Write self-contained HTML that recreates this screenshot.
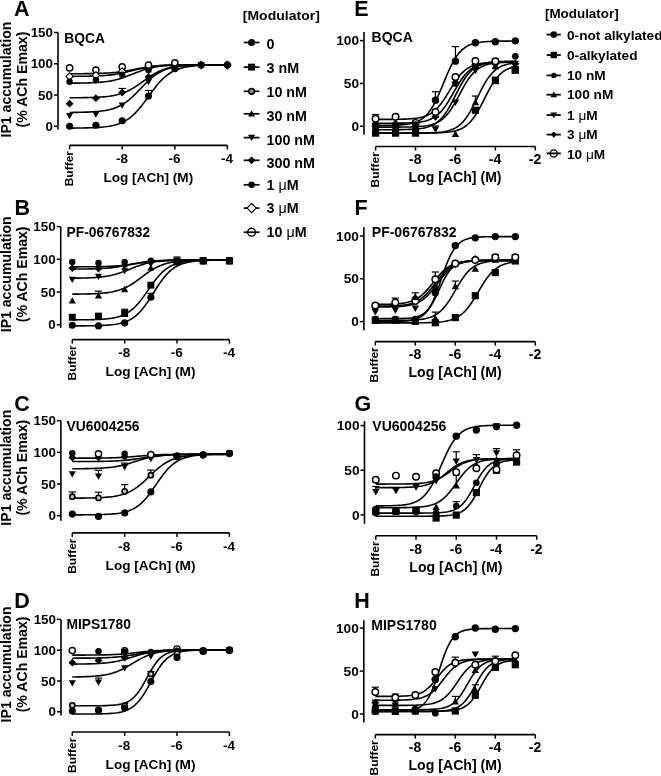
<!DOCTYPE html>
<html><head><meta charset="utf-8"><style>
html,body{margin:0;padding:0;background:#fff;overflow:hidden;width:661px;height:776px;}
svg{display:block;filter:blur(0.3px);}
text{font-family:"Liberation Sans", sans-serif;fill:#000;stroke:none;}
</style></head><body>
<svg width="661" height="776" viewBox="0 0 661 776">
<g stroke="#000" fill="none">
<line x1="58.00" y1="32.50" x2="58.00" y2="129.43" stroke-width="1.6"/>
<line x1="54.00" y1="126.30" x2="58.00" y2="126.30" stroke-width="1.5"/>
<text x="53.00" y="130.91" font-size="13.4" text-anchor="end" font-weight="bold">0</text>
<line x1="54.00" y1="95.03" x2="58.00" y2="95.03" stroke-width="1.5"/>
<text x="53.00" y="99.64" font-size="13.4" text-anchor="end" font-weight="bold">50</text>
<line x1="54.00" y1="63.77" x2="58.00" y2="63.77" stroke-width="1.5"/>
<text x="53.00" y="68.38" font-size="13.4" text-anchor="end" font-weight="bold">100</text>
<line x1="54.00" y1="32.50" x2="58.00" y2="32.50" stroke-width="1.5"/>
<text x="53.00" y="37.11" font-size="13.4" text-anchor="end" font-weight="bold">150</text>
<line x1="69.60" y1="145.40" x2="227.40" y2="145.40" stroke-width="1.6"/>
<line x1="69.60" y1="145.40" x2="69.60" y2="149.40" stroke-width="1.5"/>
<line x1="122.20" y1="145.40" x2="122.20" y2="149.40" stroke-width="1.5"/>
<text x="121.90" y="163.20" font-size="13.5" text-anchor="middle" font-weight="bold">-8</text>
<line x1="174.80" y1="145.40" x2="174.80" y2="149.40" stroke-width="1.5"/>
<text x="174.50" y="163.20" font-size="13.5" text-anchor="middle" font-weight="bold">-6</text>
<line x1="227.40" y1="145.40" x2="227.40" y2="149.40" stroke-width="1.5"/>
<text x="227.10" y="163.20" font-size="13.5" text-anchor="middle" font-weight="bold">-4</text>
<text x="73.10" y="151.00" font-size="11.5" text-anchor="end" font-weight="bold" transform="rotate(-90 73.10 151.00)" textLength="35.3" lengthAdjust="spacingAndGlyphs">Buffer</text>
<text x="14.00" y="15.60" font-size="21.5" text-anchor="start" font-weight="bold">A</text>
<text x="64.30" y="42.80" font-size="13.8" text-anchor="start" font-weight="bold">BQCA</text>
<text x="148.30" y="181.50" font-size="13.6" text-anchor="middle" font-weight="bold">Log [ACh] (M)</text>
<text x="11.20" y="79.56" font-size="14.1" text-anchor="middle" font-weight="bold" transform="rotate(-90 11.20 79.56)">IP1 accumulation</text>
<text x="26.80" y="79.56" font-size="14.1" text-anchor="middle" font-weight="bold" transform="rotate(-90 26.80 79.56)">(% ACh Emax)</text>
<line x1="60.70" y1="226.60" x2="60.70" y2="328.07" stroke-width="1.6"/>
<line x1="56.70" y1="324.80" x2="60.70" y2="324.80" stroke-width="1.5"/>
<text x="55.70" y="329.41" font-size="13.4" text-anchor="end" font-weight="bold">0</text>
<line x1="56.70" y1="292.07" x2="60.70" y2="292.07" stroke-width="1.5"/>
<text x="55.70" y="296.68" font-size="13.4" text-anchor="end" font-weight="bold">50</text>
<line x1="56.70" y1="259.33" x2="60.70" y2="259.33" stroke-width="1.5"/>
<text x="55.70" y="263.94" font-size="13.4" text-anchor="end" font-weight="bold">100</text>
<line x1="56.70" y1="226.60" x2="60.70" y2="226.60" stroke-width="1.5"/>
<text x="55.70" y="231.21" font-size="13.4" text-anchor="end" font-weight="bold">150</text>
<line x1="72.30" y1="339.60" x2="229.40" y2="339.60" stroke-width="1.6"/>
<line x1="72.30" y1="339.60" x2="72.30" y2="343.60" stroke-width="1.5"/>
<line x1="124.67" y1="339.60" x2="124.67" y2="343.60" stroke-width="1.5"/>
<text x="124.37" y="357.40" font-size="13.5" text-anchor="middle" font-weight="bold">-8</text>
<line x1="177.03" y1="339.60" x2="177.03" y2="343.60" stroke-width="1.5"/>
<text x="176.73" y="357.40" font-size="13.5" text-anchor="middle" font-weight="bold">-6</text>
<line x1="229.40" y1="339.60" x2="229.40" y2="343.60" stroke-width="1.5"/>
<text x="229.10" y="357.40" font-size="13.5" text-anchor="middle" font-weight="bold">-4</text>
<text x="75.80" y="345.20" font-size="11.5" text-anchor="end" font-weight="bold" transform="rotate(-90 75.80 345.20)" textLength="35.3" lengthAdjust="spacingAndGlyphs">Buffer</text>
<text x="14.60" y="214.80" font-size="21.5" text-anchor="start" font-weight="bold">B</text>
<text x="66.60" y="236.50" font-size="13.8" text-anchor="start" font-weight="bold">PF-06767832</text>
<text x="150.50" y="375.80" font-size="13.6" text-anchor="middle" font-weight="bold">Log [ACh] (M)</text>
<text x="11.20" y="274.34" font-size="14.1" text-anchor="middle" font-weight="bold" transform="rotate(-90 11.20 274.34)">IP1 accumulation</text>
<text x="26.80" y="274.34" font-size="14.1" text-anchor="middle" font-weight="bold" transform="rotate(-90 26.80 274.34)">(% ACh Emax)</text>
<line x1="60.90" y1="420.70" x2="60.90" y2="520.77" stroke-width="1.6"/>
<line x1="56.90" y1="515.70" x2="60.90" y2="515.70" stroke-width="1.5"/>
<text x="55.90" y="520.31" font-size="13.4" text-anchor="end" font-weight="bold">0</text>
<line x1="56.90" y1="484.03" x2="60.90" y2="484.03" stroke-width="1.5"/>
<text x="55.90" y="488.64" font-size="13.4" text-anchor="end" font-weight="bold">50</text>
<line x1="56.90" y1="452.37" x2="60.90" y2="452.37" stroke-width="1.5"/>
<text x="55.90" y="456.98" font-size="13.4" text-anchor="end" font-weight="bold">100</text>
<line x1="56.90" y1="420.70" x2="60.90" y2="420.70" stroke-width="1.5"/>
<text x="55.90" y="425.31" font-size="13.4" text-anchor="end" font-weight="bold">150</text>
<line x1="72.30" y1="532.90" x2="229.40" y2="532.90" stroke-width="1.6"/>
<line x1="72.30" y1="532.90" x2="72.30" y2="536.90" stroke-width="1.5"/>
<line x1="124.67" y1="532.90" x2="124.67" y2="536.90" stroke-width="1.5"/>
<text x="124.37" y="550.70" font-size="13.5" text-anchor="middle" font-weight="bold">-8</text>
<line x1="177.03" y1="532.90" x2="177.03" y2="536.90" stroke-width="1.5"/>
<text x="176.73" y="550.70" font-size="13.5" text-anchor="middle" font-weight="bold">-6</text>
<line x1="229.40" y1="532.90" x2="229.40" y2="536.90" stroke-width="1.5"/>
<text x="229.10" y="550.70" font-size="13.5" text-anchor="middle" font-weight="bold">-4</text>
<text x="75.80" y="538.50" font-size="11.5" text-anchor="end" font-weight="bold" transform="rotate(-90 75.80 538.50)" textLength="35.3" lengthAdjust="spacingAndGlyphs">Buffer</text>
<text x="14.30" y="411.30" font-size="21.5" text-anchor="start" font-weight="bold">C</text>
<text x="66.60" y="431.00" font-size="13.8" text-anchor="start" font-weight="bold">VU6004256</text>
<text x="150.50" y="569.80" font-size="13.6" text-anchor="middle" font-weight="bold">Log [ACh] (M)</text>
<text x="11.20" y="467.73" font-size="14.1" text-anchor="middle" font-weight="bold" transform="rotate(-90 11.20 467.73)">IP1 accumulation</text>
<text x="26.80" y="467.73" font-size="14.1" text-anchor="middle" font-weight="bold" transform="rotate(-90 26.80 467.73)">(% ACh Emax)</text>
<line x1="61.00" y1="619.40" x2="61.00" y2="715.50" stroke-width="1.6"/>
<line x1="57.00" y1="711.80" x2="61.00" y2="711.80" stroke-width="1.5"/>
<text x="56.00" y="716.41" font-size="13.4" text-anchor="end" font-weight="bold">0</text>
<line x1="57.00" y1="681.00" x2="61.00" y2="681.00" stroke-width="1.5"/>
<text x="56.00" y="685.61" font-size="13.4" text-anchor="end" font-weight="bold">50</text>
<line x1="57.00" y1="650.20" x2="61.00" y2="650.20" stroke-width="1.5"/>
<text x="56.00" y="654.81" font-size="13.4" text-anchor="end" font-weight="bold">100</text>
<line x1="57.00" y1="619.40" x2="61.00" y2="619.40" stroke-width="1.5"/>
<text x="56.00" y="624.01" font-size="13.4" text-anchor="end" font-weight="bold">150</text>
<line x1="72.30" y1="732.00" x2="229.40" y2="732.00" stroke-width="1.6"/>
<line x1="72.30" y1="732.00" x2="72.30" y2="736.00" stroke-width="1.5"/>
<line x1="124.67" y1="732.00" x2="124.67" y2="736.00" stroke-width="1.5"/>
<text x="124.37" y="749.80" font-size="13.5" text-anchor="middle" font-weight="bold">-8</text>
<line x1="177.03" y1="732.00" x2="177.03" y2="736.00" stroke-width="1.5"/>
<text x="176.73" y="749.80" font-size="13.5" text-anchor="middle" font-weight="bold">-6</text>
<line x1="229.40" y1="732.00" x2="229.40" y2="736.00" stroke-width="1.5"/>
<text x="229.10" y="749.80" font-size="13.5" text-anchor="middle" font-weight="bold">-4</text>
<text x="75.80" y="737.60" font-size="11.5" text-anchor="end" font-weight="bold" transform="rotate(-90 75.80 737.60)" textLength="35.3" lengthAdjust="spacingAndGlyphs">Buffer</text>
<text x="14.30" y="607.60" font-size="21.5" text-anchor="start" font-weight="bold">D</text>
<text x="66.40" y="629.30" font-size="13.8" text-anchor="start" font-weight="bold">MIPS1780</text>
<text x="150.50" y="768.60" font-size="13.6" text-anchor="middle" font-weight="bold">Log [ACh] (M)</text>
<text x="11.20" y="664.45" font-size="14.1" text-anchor="middle" font-weight="bold" transform="rotate(-90 11.20 664.45)">IP1 accumulation</text>
<text x="26.80" y="664.45" font-size="14.1" text-anchor="middle" font-weight="bold" transform="rotate(-90 26.80 664.45)">(% ACh Emax)</text>
<line x1="364.00" y1="32.03" x2="364.00" y2="134.87" stroke-width="1.6"/>
<line x1="360.00" y1="126.30" x2="364.00" y2="126.30" stroke-width="1.5"/>
<text x="359.00" y="131.01" font-size="13.7" text-anchor="end" font-weight="bold">0</text>
<line x1="360.00" y1="83.45" x2="364.00" y2="83.45" stroke-width="1.5"/>
<text x="359.00" y="88.16" font-size="13.7" text-anchor="end" font-weight="bold">50</text>
<line x1="360.00" y1="40.60" x2="364.00" y2="40.60" stroke-width="1.5"/>
<text x="359.00" y="45.31" font-size="13.7" text-anchor="end" font-weight="bold">100</text>
<line x1="375.60" y1="146.50" x2="535.30" y2="146.50" stroke-width="1.6"/>
<line x1="375.60" y1="146.50" x2="375.60" y2="150.50" stroke-width="1.5"/>
<line x1="415.52" y1="146.50" x2="415.52" y2="150.50" stroke-width="1.5"/>
<text x="415.22" y="164.30" font-size="14.0" text-anchor="middle" font-weight="bold">-8</text>
<line x1="455.45" y1="146.50" x2="455.45" y2="150.50" stroke-width="1.5"/>
<text x="455.15" y="164.30" font-size="14.0" text-anchor="middle" font-weight="bold">-6</text>
<line x1="495.38" y1="146.50" x2="495.38" y2="150.50" stroke-width="1.5"/>
<text x="495.07" y="164.30" font-size="14.0" text-anchor="middle" font-weight="bold">-4</text>
<line x1="535.30" y1="146.50" x2="535.30" y2="150.50" stroke-width="1.5"/>
<text x="535.00" y="164.30" font-size="14.0" text-anchor="middle" font-weight="bold">-2</text>
<text x="378.60" y="152.10" font-size="11.5" text-anchor="end" font-weight="bold" transform="rotate(-90 378.60 152.10)" textLength="35.3" lengthAdjust="spacingAndGlyphs">Buffer</text>
<text x="354.30" y="15.60" font-size="21.5" text-anchor="start" font-weight="bold">E</text>
<text x="371.60" y="41.70" font-size="14.0" text-anchor="start" font-weight="bold">BQCA</text>
<text x="455.00" y="182.30" font-size="14.1" text-anchor="middle" font-weight="bold">Log [ACh] (M)</text>
<line x1="363.90" y1="227.33" x2="363.90" y2="330.17" stroke-width="1.6"/>
<line x1="359.90" y1="321.60" x2="363.90" y2="321.60" stroke-width="1.5"/>
<text x="358.90" y="326.31" font-size="13.7" text-anchor="end" font-weight="bold">0</text>
<line x1="359.90" y1="278.75" x2="363.90" y2="278.75" stroke-width="1.5"/>
<text x="358.90" y="283.46" font-size="13.7" text-anchor="end" font-weight="bold">50</text>
<line x1="359.90" y1="235.90" x2="363.90" y2="235.90" stroke-width="1.5"/>
<text x="358.90" y="240.61" font-size="13.7" text-anchor="end" font-weight="bold">100</text>
<line x1="375.30" y1="341.60" x2="535.30" y2="341.60" stroke-width="1.6"/>
<line x1="375.30" y1="341.60" x2="375.30" y2="345.60" stroke-width="1.5"/>
<line x1="415.30" y1="341.60" x2="415.30" y2="345.60" stroke-width="1.5"/>
<text x="415.00" y="359.40" font-size="14.0" text-anchor="middle" font-weight="bold">-8</text>
<line x1="455.30" y1="341.60" x2="455.30" y2="345.60" stroke-width="1.5"/>
<text x="455.00" y="359.40" font-size="14.0" text-anchor="middle" font-weight="bold">-6</text>
<line x1="495.30" y1="341.60" x2="495.30" y2="345.60" stroke-width="1.5"/>
<text x="495.00" y="359.40" font-size="14.0" text-anchor="middle" font-weight="bold">-4</text>
<line x1="535.30" y1="341.60" x2="535.30" y2="345.60" stroke-width="1.5"/>
<text x="535.00" y="359.40" font-size="14.0" text-anchor="middle" font-weight="bold">-2</text>
<text x="378.30" y="347.20" font-size="11.5" text-anchor="end" font-weight="bold" transform="rotate(-90 378.30 347.20)" textLength="35.3" lengthAdjust="spacingAndGlyphs">Buffer</text>
<text x="354.50" y="214.60" font-size="21.5" text-anchor="start" font-weight="bold">F</text>
<text x="371.80" y="237.30" font-size="14.0" text-anchor="start" font-weight="bold">PF-06767832</text>
<text x="455.10" y="377.40" font-size="14.1" text-anchor="middle" font-weight="bold">Log [ACh] (M)</text>
<line x1="364.50" y1="421.13" x2="364.50" y2="523.83" stroke-width="1.6"/>
<line x1="360.50" y1="514.90" x2="364.50" y2="514.90" stroke-width="1.5"/>
<text x="359.50" y="519.61" font-size="13.7" text-anchor="end" font-weight="bold">0</text>
<line x1="360.50" y1="470.25" x2="364.50" y2="470.25" stroke-width="1.5"/>
<text x="359.50" y="474.96" font-size="13.7" text-anchor="end" font-weight="bold">50</text>
<line x1="360.50" y1="425.60" x2="364.50" y2="425.60" stroke-width="1.5"/>
<text x="359.50" y="430.31" font-size="13.7" text-anchor="end" font-weight="bold">100</text>
<line x1="375.80" y1="535.70" x2="536.70" y2="535.70" stroke-width="1.6"/>
<line x1="375.80" y1="535.70" x2="375.80" y2="539.70" stroke-width="1.5"/>
<line x1="416.03" y1="535.70" x2="416.03" y2="539.70" stroke-width="1.5"/>
<text x="415.73" y="553.50" font-size="14.0" text-anchor="middle" font-weight="bold">-8</text>
<line x1="456.25" y1="535.70" x2="456.25" y2="539.70" stroke-width="1.5"/>
<text x="455.95" y="553.50" font-size="14.0" text-anchor="middle" font-weight="bold">-6</text>
<line x1="496.48" y1="535.70" x2="496.48" y2="539.70" stroke-width="1.5"/>
<text x="496.18" y="553.50" font-size="14.0" text-anchor="middle" font-weight="bold">-4</text>
<line x1="536.70" y1="535.70" x2="536.70" y2="539.70" stroke-width="1.5"/>
<text x="536.40" y="553.50" font-size="14.0" text-anchor="middle" font-weight="bold">-2</text>
<text x="378.80" y="541.30" font-size="11.5" text-anchor="end" font-weight="bold" transform="rotate(-90 378.80 541.30)" textLength="35.3" lengthAdjust="spacingAndGlyphs">Buffer</text>
<text x="354.60" y="410.80" font-size="21.5" text-anchor="start" font-weight="bold">G</text>
<text x="372.30" y="430.60" font-size="14.0" text-anchor="start" font-weight="bold">VU6004256</text>
<text x="455.90" y="572.40" font-size="14.1" text-anchor="middle" font-weight="bold">Log [ACh] (M)</text>
<line x1="363.80" y1="620.37" x2="363.80" y2="722.59" stroke-width="1.6"/>
<line x1="359.80" y1="714.00" x2="363.80" y2="714.00" stroke-width="1.5"/>
<text x="358.80" y="718.71" font-size="13.7" text-anchor="end" font-weight="bold">0</text>
<line x1="359.80" y1="671.05" x2="363.80" y2="671.05" stroke-width="1.5"/>
<text x="358.80" y="675.76" font-size="13.7" text-anchor="end" font-weight="bold">50</text>
<line x1="359.80" y1="628.10" x2="363.80" y2="628.10" stroke-width="1.5"/>
<text x="358.80" y="632.81" font-size="13.7" text-anchor="end" font-weight="bold">100</text>
<line x1="375.30" y1="734.60" x2="535.30" y2="734.60" stroke-width="1.6"/>
<line x1="375.30" y1="734.60" x2="375.30" y2="738.60" stroke-width="1.5"/>
<line x1="415.30" y1="734.60" x2="415.30" y2="738.60" stroke-width="1.5"/>
<text x="415.00" y="752.40" font-size="14.0" text-anchor="middle" font-weight="bold">-8</text>
<line x1="455.30" y1="734.60" x2="455.30" y2="738.60" stroke-width="1.5"/>
<text x="455.00" y="752.40" font-size="14.0" text-anchor="middle" font-weight="bold">-6</text>
<line x1="495.30" y1="734.60" x2="495.30" y2="738.60" stroke-width="1.5"/>
<text x="495.00" y="752.40" font-size="14.0" text-anchor="middle" font-weight="bold">-4</text>
<line x1="535.30" y1="734.60" x2="535.30" y2="738.60" stroke-width="1.5"/>
<text x="535.00" y="752.40" font-size="14.0" text-anchor="middle" font-weight="bold">-2</text>
<text x="378.30" y="740.20" font-size="11.5" text-anchor="end" font-weight="bold" transform="rotate(-90 378.30 740.20)" textLength="35.3" lengthAdjust="spacingAndGlyphs">Buffer</text>
<text x="354.30" y="607.60" font-size="21.5" text-anchor="start" font-weight="bold">H</text>
<text x="371.30" y="629.90" font-size="14.0" text-anchor="start" font-weight="bold">MIPS1780</text>
<text x="455.10" y="770.00" font-size="14.1" text-anchor="middle" font-weight="bold">Log [ACh] (M)</text>
<text x="242.80" y="19.90" font-size="13.5" text-anchor="start" font-weight="bold" textLength="77" lengthAdjust="spacingAndGlyphs">[Modulator]</text>
<text x="266.50" y="49.00" font-size="14.3" text-anchor="start" font-weight="bold">0</text>
<text x="266.50" y="73.20" font-size="14.3" text-anchor="start" font-weight="bold">3 nM</text>
<text x="266.50" y="97.20" font-size="14.3" text-anchor="start" font-weight="bold">10 nM</text>
<text x="266.50" y="120.60" font-size="14.3" text-anchor="start" font-weight="bold">30 nM</text>
<text x="266.50" y="144.50" font-size="14.3" text-anchor="start" font-weight="bold">100 nM</text>
<text x="266.50" y="167.50" font-size="14.3" text-anchor="start" font-weight="bold">300 nM</text>
<text x="266.50" y="189.80" font-size="14.3" text-anchor="start" font-weight="bold">1 <tspan font-weight="normal">&#956;</tspan>M</text>
<text x="266.50" y="213.20" font-size="14.3" text-anchor="start" font-weight="bold">3 <tspan font-weight="normal">&#956;</tspan>M</text>
<text x="266.50" y="237.30" font-size="14.3" text-anchor="start" font-weight="bold">10 <tspan font-weight="normal">&#956;</tspan>M</text>
<text x="545.00" y="17.60" font-size="13.4" text-anchor="start" font-weight="bold">[Modulator]</text>
<text x="567.00" y="39.50" font-size="13.65" text-anchor="start" font-weight="bold">0-not alkylated</text>
<text x="567.00" y="59.70" font-size="13.65" text-anchor="start" font-weight="bold">0-alkylated</text>
<text x="567.00" y="80.20" font-size="13.65" text-anchor="start" font-weight="bold">10 nM</text>
<text x="567.00" y="99.20" font-size="13.65" text-anchor="start" font-weight="bold">100 nM</text>
<text x="567.00" y="119.70" font-size="13.65" text-anchor="start" font-weight="bold">1 <tspan font-weight="normal">&#956;</tspan>M</text>
<text x="567.00" y="139.30" font-size="13.65" text-anchor="start" font-weight="bold">3 <tspan font-weight="normal">&#956;</tspan>M</text>
<text x="567.00" y="158.50" font-size="13.65" text-anchor="start" font-weight="bold">10 <tspan font-weight="normal">&#956;</tspan>M</text>
<polyline points="69.60,73.74 71.57,73.74 73.55,73.73 75.52,73.72 77.49,73.72 79.46,73.70 81.43,73.69 83.41,73.68 85.38,73.66 87.35,73.64 89.32,73.61 91.30,73.58 93.27,73.55 95.24,73.51 97.22,73.46 99.19,73.41 101.16,73.34 103.13,73.26 105.10,73.17 107.08,73.07 109.05,72.95 111.02,72.81 113.00,72.65 114.97,72.47 116.94,72.26 118.91,72.03 120.88,71.78 122.86,71.50 124.83,71.19 126.80,70.86 128.78,70.51 130.75,70.14 132.72,69.76 134.69,69.37 136.66,68.98 138.64,68.59 140.61,68.21 142.58,67.85 144.56,67.50 146.53,67.18 148.50,66.88 150.47,66.61 152.44,66.36 154.42,66.14 156.39,65.95 158.36,65.77 160.34,65.62 162.31,65.49 164.28,65.37 166.25,65.27 168.22,65.19 170.20,65.11 172.17,65.05 174.14,65.00 176.12,64.95 178.09,64.91 180.06,64.88 182.03,64.85 184.00,64.83 185.98,64.81 187.95,64.79 189.92,64.78 191.90,64.77 193.87,64.76 195.84,64.75 197.81,64.74 199.78,64.74 201.76,64.73 203.73,64.73 205.70,64.72 207.68,64.72 209.65,64.72 211.62,64.72 213.59,64.71 215.56,64.71 217.54,64.71 219.51,64.71 221.48,64.71 223.45,64.71 225.43,64.71 227.40,64.71" stroke-width="1.6" stroke-linejoin="round"/>
<polyline points="69.60,76.35 71.57,76.34 73.55,76.33 75.52,76.32 77.49,76.31 79.46,76.29 81.43,76.27 83.41,76.24 85.38,76.22 87.35,76.18 89.32,76.14 91.30,76.10 93.27,76.04 95.24,75.97 97.22,75.90 99.19,75.81 101.16,75.70 103.13,75.58 105.10,75.44 107.08,75.28 109.05,75.09 111.02,74.88 113.00,74.63 114.97,74.36 116.94,74.05 118.91,73.71 120.88,73.34 122.86,72.93 124.83,72.49 126.80,72.03 128.78,71.55 130.75,71.06 132.72,70.55 134.69,70.05 136.66,69.55 138.64,69.07 140.61,68.61 142.58,68.17 144.56,67.77 146.53,67.39 148.50,67.05 150.47,66.74 152.44,66.47 154.42,66.23 156.39,66.01 158.36,65.82 160.34,65.66 162.31,65.52 164.28,65.40 166.25,65.29 168.22,65.20 170.20,65.13 172.17,65.06 174.14,65.01 176.12,64.96 178.09,64.92 180.06,64.89 182.03,64.86 184.00,64.83 185.98,64.81 187.95,64.80 189.92,64.78 191.90,64.77 193.87,64.76 195.84,64.75 197.81,64.74 199.78,64.74 201.76,64.73 203.73,64.73 205.70,64.72 207.68,64.72 209.65,64.72 211.62,64.72 213.59,64.71 215.56,64.71 217.54,64.71 219.51,64.71 221.48,64.71 223.45,64.71 225.43,64.71 227.40,64.71" stroke-width="1.6" stroke-linejoin="round"/>
<polyline points="69.60,83.20 71.57,83.19 73.55,83.17 75.52,83.15 77.49,83.13 79.46,83.10 81.43,83.07 83.41,83.03 85.38,82.99 87.35,82.93 89.32,82.87 91.30,82.80 93.27,82.71 95.24,82.60 97.22,82.48 99.19,82.34 101.16,82.17 103.13,81.98 105.10,81.76 107.08,81.50 109.05,81.20 111.02,80.86 113.00,80.47 114.97,80.04 116.94,79.55 118.91,79.01 120.88,78.41 122.86,77.77 124.83,77.08 126.80,76.34 128.78,75.58 130.75,74.79 132.72,73.99 134.69,73.19 136.66,72.40 138.64,71.64 140.61,70.91 142.58,70.21 144.56,69.57 146.53,68.97 148.50,68.43 150.47,67.95 152.44,67.51 154.42,67.12 156.39,66.78 158.36,66.48 160.34,66.22 162.31,66.00 164.28,65.81 166.25,65.64 168.22,65.50 170.20,65.38 172.17,65.27 174.14,65.19 176.12,65.11 178.09,65.05 180.06,64.99 182.03,64.95 184.00,64.91 185.98,64.88 187.95,64.85 189.92,64.83 191.90,64.81 193.87,64.79 195.84,64.78 197.81,64.77 199.78,64.76 201.76,64.75 203.73,64.74 205.70,64.74 207.68,64.73 209.65,64.73 211.62,64.72 213.59,64.72 215.56,64.72 217.54,64.72 219.51,64.71 221.48,64.71 223.45,64.71 225.43,64.71 227.40,64.71" stroke-width="1.6" stroke-linejoin="round"/>
<polyline points="69.60,97.79 71.57,97.79 73.55,97.77 75.52,97.76 77.49,97.74 79.46,97.72 81.43,97.70 83.41,97.67 85.38,97.64 87.35,97.60 89.32,97.55 91.30,97.50 93.27,97.44 95.24,97.36 97.22,97.27 99.19,97.16 101.16,97.04 103.13,96.89 105.10,96.71 107.08,96.51 109.05,96.27 111.02,95.98 113.00,95.66 114.97,95.28 116.94,94.83 118.91,94.33 120.88,93.75 122.86,93.08 124.83,92.33 126.80,91.49 128.78,90.56 130.75,89.53 132.72,88.41 134.69,87.20 136.66,85.92 138.64,84.57 140.61,83.18 142.58,81.75 144.56,80.32 146.53,78.91 148.50,77.53 150.47,76.20 152.44,74.94 154.42,73.76 156.39,72.67 158.36,71.67 160.34,70.77 162.31,69.96 164.28,69.24 166.25,68.60 168.22,68.05 170.20,67.56 172.17,67.14 174.14,66.78 176.12,66.47 178.09,66.20 180.06,65.97 182.03,65.78 184.00,65.61 185.98,65.47 187.95,65.35 189.92,65.25 191.90,65.17 193.87,65.09 195.84,65.03 197.81,64.98 199.78,64.94 201.76,64.90 203.73,64.87 205.70,64.84 207.68,64.82 209.65,64.80 211.62,64.79 213.59,64.77 215.56,64.76 217.54,64.75 219.51,64.75 221.48,64.74 223.45,64.73 225.43,64.73 227.40,64.73" stroke-width="1.6" stroke-linejoin="round"/>
<polyline points="69.60,112.45 71.57,112.43 73.55,112.41 75.52,112.38 77.49,112.35 79.46,112.32 81.43,112.28 83.41,112.23 85.38,112.17 87.35,112.10 89.32,112.01 91.30,111.91 93.27,111.80 95.24,111.66 97.22,111.50 99.19,111.30 101.16,111.08 103.13,110.81 105.10,110.50 107.08,110.13 109.05,109.70 111.02,109.21 113.00,108.63 114.97,107.96 116.94,107.19 118.91,106.32 120.88,105.32 122.86,104.20 124.83,102.94 126.80,101.54 128.78,100.01 130.75,98.35 132.72,96.57 134.69,94.68 136.66,92.71 138.64,90.68 140.61,88.62 142.58,86.56 144.56,84.53 146.53,82.56 148.50,80.68 150.47,78.89 152.44,77.23 154.42,75.70 156.39,74.31 158.36,73.05 160.34,71.93 162.31,70.93 164.28,70.05 166.25,69.29 168.22,68.62 170.20,68.04 172.17,67.54 174.14,67.12 176.12,66.75 178.09,66.44 180.06,66.17 182.03,65.94 184.00,65.75 185.98,65.59 187.95,65.45 189.92,65.33 191.90,65.24 193.87,65.15 195.84,65.08 197.81,65.02 199.78,64.97 201.76,64.93 203.73,64.89 205.70,64.86 207.68,64.84 209.65,64.82 211.62,64.80 213.59,64.78 215.56,64.77 217.54,64.76 219.51,64.75 221.48,64.74 223.45,64.74 225.43,64.73 227.40,64.73" stroke-width="1.6" stroke-linejoin="round"/>
<polyline points="69.60,128.11 71.57,128.10 73.55,128.09 75.52,128.07 77.49,128.05 79.46,128.03 81.43,128.00 83.41,127.96 85.38,127.92 87.35,127.88 89.32,127.82 91.30,127.75 93.27,127.68 95.24,127.58 97.22,127.47 99.19,127.34 101.16,127.19 103.13,127.00 105.10,126.79 107.08,126.53 109.05,126.23 111.02,125.88 113.00,125.46 114.97,124.98 116.94,124.41 118.91,123.75 120.88,122.98 122.86,122.10 124.83,121.08 126.80,119.92 128.78,118.59 130.75,117.10 132.72,115.43 134.69,113.58 136.66,111.55 138.64,109.35 140.61,106.99 142.58,104.48 144.56,101.87 146.53,99.17 148.50,96.44 150.47,93.71 152.44,91.01 154.42,88.40 156.39,85.90 158.36,83.53 160.34,81.33 162.31,79.30 164.28,77.45 166.25,75.78 168.22,74.29 170.20,72.97 172.17,71.80 174.14,70.78 176.12,69.90 178.09,69.13 180.06,68.47 182.03,67.90 184.00,67.42 185.98,67.00 187.95,66.65 189.92,66.35 191.90,66.09 193.87,65.88 195.84,65.69 197.81,65.54 199.78,65.41 201.76,65.30 203.73,65.20 205.70,65.13 207.68,65.06 209.65,65.00 211.62,64.96 213.59,64.92 215.56,64.88 217.54,64.85 219.51,64.83 221.48,64.81 223.45,64.79 225.43,64.78 227.40,64.77" stroke-width="1.6" stroke-linejoin="round"/>
<polyline points="72.30,266.84 74.26,266.84 76.23,266.83 78.19,266.83 80.16,266.82 82.12,266.81 84.08,266.80 86.05,266.79 88.01,266.78 89.97,266.76 91.94,266.74 93.90,266.72 95.87,266.69 97.83,266.66 99.79,266.63 101.76,266.58 103.72,266.53 105.68,266.48 107.65,266.41 109.61,266.33 111.58,266.24 113.54,266.13 115.50,266.01 117.47,265.87 119.43,265.72 121.39,265.54 123.36,265.35 125.32,265.14 127.28,264.90 129.25,264.65 131.21,264.39 133.18,264.11 135.14,263.82 137.10,263.52 139.07,263.23 141.03,262.93 143.00,262.65 144.96,262.37 146.92,262.11 148.89,261.87 150.85,261.64 152.81,261.43 154.78,261.25 156.74,261.08 158.70,260.93 160.67,260.80 162.63,260.68 164.60,260.58 166.56,260.49 168.52,260.42 170.49,260.35 172.45,260.30 174.42,260.25 176.38,260.21 178.34,260.18 180.31,260.15 182.27,260.12 184.23,260.10 186.20,260.08 188.16,260.07 190.12,260.06 192.09,260.05 194.05,260.04 196.02,260.03 197.98,260.02 199.94,260.02 201.91,260.01 203.87,260.01 205.83,260.01 207.80,260.00 209.76,260.00 211.73,260.00 213.69,260.00 215.65,260.00 217.62,259.99 219.58,259.99 221.55,259.99 223.51,259.99 225.47,259.99 227.44,259.99 229.40,259.99" stroke-width="1.6" stroke-linejoin="round"/>
<polyline points="72.30,269.10 74.26,269.09 76.23,269.07 78.19,269.06 80.16,269.04 82.12,269.02 84.08,268.99 86.05,268.96 88.01,268.93 89.97,268.89 91.94,268.84 93.90,268.78 95.87,268.72 97.83,268.64 99.79,268.55 101.76,268.44 103.72,268.32 105.68,268.18 107.65,268.02 109.61,267.84 111.58,267.63 113.54,267.40 115.50,267.14 117.47,266.85 119.43,266.54 121.39,266.21 123.36,265.85 125.32,265.48 127.28,265.10 129.25,264.70 131.21,264.31 133.18,263.92 135.14,263.53 137.10,263.17 139.07,262.82 141.03,262.49 143.00,262.19 144.96,261.91 146.92,261.66 148.89,261.44 150.85,261.24 152.81,261.07 154.78,260.91 156.74,260.78 158.70,260.66 160.67,260.56 162.63,260.48 164.60,260.40 166.56,260.34 168.52,260.29 170.49,260.24 172.45,260.20 174.42,260.17 176.38,260.14 178.34,260.12 180.31,260.10 182.27,260.08 184.23,260.06 186.20,260.05 188.16,260.04 190.12,260.03 192.09,260.03 194.05,260.02 196.02,260.02 197.98,260.01 199.94,260.01 201.91,260.00 203.87,260.00 205.83,260.00 207.80,260.00 209.76,260.00 211.73,259.99 213.69,259.99 215.65,259.99 217.62,259.99 219.58,259.99 221.55,259.99 223.51,259.99 225.47,259.99 227.44,259.99 229.40,259.99" stroke-width="1.6" stroke-linejoin="round"/>
<polyline points="72.30,278.20 74.26,278.18 76.23,278.16 78.19,278.13 80.16,278.09 82.12,278.05 84.08,278.00 86.05,277.94 88.01,277.87 89.97,277.79 91.94,277.69 93.90,277.58 95.87,277.44 97.83,277.29 99.79,277.11 101.76,276.90 103.72,276.65 105.68,276.37 107.65,276.05 109.61,275.68 111.58,275.27 113.54,274.81 115.50,274.29 117.47,273.72 119.43,273.10 121.39,272.43 123.36,271.72 125.32,270.98 127.28,270.20 129.25,269.42 131.21,268.63 133.18,267.84 135.14,267.08 137.10,266.34 139.07,265.65 141.03,265.00 143.00,264.39 144.96,263.84 146.92,263.34 148.89,262.89 150.85,262.50 152.81,262.14 154.78,261.84 156.74,261.57 158.70,261.34 160.67,261.14 162.63,260.96 164.60,260.82 166.56,260.69 168.52,260.58 170.49,260.49 172.45,260.41 174.42,260.35 176.38,260.29 178.34,260.24 180.31,260.20 182.27,260.17 184.23,260.14 186.20,260.12 188.16,260.10 190.12,260.08 192.09,260.06 194.05,260.05 196.02,260.04 197.98,260.03 199.94,260.03 201.91,260.02 203.87,260.02 205.83,260.01 207.80,260.01 209.76,260.00 211.73,260.00 213.69,260.00 215.65,260.00 217.62,260.00 219.58,259.99 221.55,259.99 223.51,259.99 225.47,259.99 227.44,259.99 229.40,259.99" stroke-width="1.6" stroke-linejoin="round"/>
<polyline points="72.30,294.15 74.26,294.14 76.23,294.12 78.19,294.10 80.16,294.07 82.12,294.05 84.08,294.01 86.05,293.97 88.01,293.92 89.97,293.87 91.94,293.80 93.90,293.72 95.87,293.63 97.83,293.52 99.79,293.39 101.76,293.23 103.72,293.05 105.68,292.84 107.65,292.59 109.61,292.30 111.58,291.96 113.54,291.57 115.50,291.11 117.47,290.59 119.43,289.99 121.39,289.31 123.36,288.53 125.32,287.66 127.28,286.70 129.25,285.64 131.21,284.48 133.18,283.23 135.14,281.90 137.10,280.51 139.07,279.07 141.03,277.60 143.00,276.12 144.96,274.66 146.92,273.23 148.89,271.86 150.85,270.56 152.81,269.34 154.78,268.21 156.74,267.18 158.70,266.25 160.67,265.42 162.63,264.67 164.60,264.02 166.56,263.44 168.52,262.94 170.49,262.51 172.45,262.13 174.42,261.81 176.38,261.53 178.34,261.30 180.31,261.10 182.27,260.93 184.23,260.78 186.20,260.66 188.16,260.55 190.12,260.46 192.09,260.39 194.05,260.33 196.02,260.27 197.98,260.23 199.94,260.19 201.91,260.16 203.87,260.13 205.83,260.11 207.80,260.09 209.76,260.07 211.73,260.06 213.69,260.05 215.65,260.04 217.62,260.03 219.58,260.02 221.55,260.02 223.51,260.01 225.47,260.01 227.44,260.01 229.40,260.00" stroke-width="1.6" stroke-linejoin="round"/>
<polyline points="72.30,319.85 74.26,319.84 76.23,319.83 78.19,319.82 80.16,319.81 82.12,319.79 84.08,319.77 86.05,319.74 88.01,319.71 89.97,319.68 91.94,319.63 93.90,319.58 95.87,319.51 97.83,319.44 99.79,319.34 101.76,319.23 103.72,319.09 105.68,318.93 107.65,318.73 109.61,318.49 111.58,318.21 113.54,317.87 115.50,317.47 117.47,316.98 119.43,316.41 121.39,315.73 123.36,314.94 125.32,314.00 127.28,312.91 129.25,311.65 131.21,310.21 133.18,308.57 135.14,306.72 137.10,304.66 139.07,302.41 141.03,299.97 143.00,297.37 144.96,294.64 146.92,291.83 148.89,288.99 150.85,286.17 152.81,283.41 154.78,280.76 156.74,278.26 158.70,275.94 160.67,273.82 162.63,271.90 164.60,270.19 166.56,268.68 168.52,267.36 170.49,266.22 172.45,265.24 174.42,264.40 176.38,263.68 178.34,263.07 180.31,262.56 182.27,262.13 184.23,261.77 186.20,261.47 188.16,261.22 190.12,261.01 192.09,260.84 194.05,260.69 196.02,260.57 197.98,260.47 199.94,260.39 201.91,260.32 203.87,260.26 205.83,260.21 207.80,260.18 209.76,260.14 211.73,260.12 213.69,260.09 215.65,260.08 217.62,260.06 219.58,260.05 221.55,260.04 223.51,260.03 225.47,260.02 227.44,260.02 229.40,260.01" stroke-width="1.6" stroke-linejoin="round"/>
<polyline points="72.30,325.89 74.26,325.88 76.23,325.88 78.19,325.87 80.16,325.86 82.12,325.85 84.08,325.83 86.05,325.82 88.01,325.80 89.97,325.77 91.94,325.74 93.90,325.71 95.87,325.66 97.83,325.61 99.79,325.55 101.76,325.47 103.72,325.38 105.68,325.27 107.65,325.14 109.61,324.98 111.58,324.79 113.54,324.56 115.50,324.28 117.47,323.95 119.43,323.55 121.39,323.08 123.36,322.52 125.32,321.85 127.28,321.06 129.25,320.14 131.21,319.05 133.18,317.79 135.14,316.34 137.10,314.68 139.07,312.80 141.03,310.69 143.00,308.35 144.96,305.80 146.92,303.05 148.89,300.14 150.85,297.10 152.81,293.99 154.78,290.87 156.74,287.78 158.70,284.78 160.67,281.91 162.63,279.23 164.60,276.74 166.56,274.48 168.52,272.45 170.49,270.64 172.45,269.05 174.42,267.67 176.38,266.47 178.34,265.44 180.31,264.56 182.27,263.82 184.23,263.19 186.20,262.66 188.16,262.21 190.12,261.84 192.09,261.52 194.05,261.26 196.02,261.05 197.98,260.87 199.94,260.72 201.91,260.59 203.87,260.49 205.83,260.40 207.80,260.33 209.76,260.27 211.73,260.22 213.69,260.18 215.65,260.15 217.62,260.12 219.58,260.10 221.55,260.08 223.51,260.06 225.47,260.05 227.44,260.04 229.40,260.03" stroke-width="1.6" stroke-linejoin="round"/>
<polyline points="72.30,458.18 74.26,458.18 76.23,458.18 78.19,458.17 80.16,458.17 82.12,458.16 84.08,458.16 86.05,458.15 88.01,458.14 89.97,458.14 91.94,458.12 93.90,458.11 95.87,458.10 97.83,458.08 99.79,458.06 101.76,458.03 103.72,458.01 105.68,457.97 107.65,457.93 109.61,457.89 111.58,457.84 113.54,457.78 115.50,457.71 117.47,457.63 119.43,457.54 121.39,457.44 123.36,457.33 125.32,457.21 127.28,457.08 129.25,456.93 131.21,456.78 133.18,456.62 135.14,456.46 137.10,456.29 139.07,456.12 141.03,455.95 143.00,455.79 144.96,455.63 146.92,455.48 148.89,455.34 150.85,455.21 152.81,455.09 154.78,454.98 156.74,454.89 158.70,454.80 160.67,454.73 162.63,454.66 164.60,454.61 166.56,454.56 168.52,454.51 170.49,454.48 172.45,454.44 174.42,454.42 176.38,454.39 178.34,454.37 180.31,454.36 182.27,454.34 184.23,454.33 186.20,454.32 188.16,454.31 190.12,454.31 192.09,454.30 194.05,454.29 196.02,454.29 197.98,454.29 199.94,454.28 201.91,454.28 203.87,454.28 205.83,454.28 207.80,454.27 209.76,454.27 211.73,454.27 213.69,454.27 215.65,454.27 217.62,454.27 219.58,454.27 221.55,454.27 223.51,454.27 225.47,454.27 227.44,454.27 229.40,454.27" stroke-width="1.6" stroke-linejoin="round"/>
<polyline points="72.30,461.54 74.26,461.53 76.23,461.53 78.19,461.53 80.16,461.52 82.12,461.52 84.08,461.51 86.05,461.50 88.01,461.49 89.97,461.48 91.94,461.47 93.90,461.45 95.87,461.44 97.83,461.42 99.79,461.39 101.76,461.36 103.72,461.33 105.68,461.29 107.65,461.24 109.61,461.18 111.58,461.12 113.54,461.04 115.50,460.95 117.47,460.85 119.43,460.74 121.39,460.60 123.36,460.45 125.32,460.28 127.28,460.09 129.25,459.88 131.21,459.64 133.18,459.39 135.14,459.12 137.10,458.83 139.07,458.53 141.03,458.22 143.00,457.91 144.96,457.59 146.92,457.29 148.89,456.99 150.85,456.70 152.81,456.43 154.78,456.17 156.74,455.94 158.70,455.73 160.67,455.54 162.63,455.37 164.60,455.21 166.56,455.08 168.52,454.96 170.49,454.86 172.45,454.77 174.42,454.70 176.38,454.63 178.34,454.58 180.31,454.53 182.27,454.49 184.23,454.46 186.20,454.43 188.16,454.40 190.12,454.38 192.09,454.36 194.05,454.35 196.02,454.33 197.98,454.32 199.94,454.32 201.91,454.31 203.87,454.30 205.83,454.30 207.80,454.29 209.76,454.29 211.73,454.28 213.69,454.28 215.65,454.28 217.62,454.28 219.58,454.28 221.55,454.27 223.51,454.27 225.47,454.27 227.44,454.27 229.40,454.27" stroke-width="1.6" stroke-linejoin="round"/>
<polyline points="72.30,468.78 74.26,468.76 76.23,468.75 78.19,468.74 80.16,468.72 82.12,468.70 84.08,468.67 86.05,468.64 88.01,468.61 89.97,468.56 91.94,468.51 93.90,468.46 95.87,468.39 97.83,468.31 99.79,468.21 101.76,468.10 103.72,467.97 105.68,467.82 107.65,467.64 109.61,467.44 111.58,467.20 113.54,466.94 115.50,466.63 117.47,466.29 119.43,465.91 121.39,465.48 123.36,465.02 125.32,464.51 127.28,463.97 129.25,463.40 131.21,462.80 133.18,462.18 135.14,461.55 137.10,460.92 139.07,460.30 141.03,459.70 143.00,459.13 144.96,458.59 146.92,458.08 148.89,457.62 150.85,457.19 152.81,456.81 154.78,456.47 156.74,456.16 158.70,455.90 160.67,455.66 162.63,455.46 164.60,455.28 166.56,455.13 168.52,455.00 170.49,454.89 172.45,454.79 174.42,454.71 176.38,454.64 178.34,454.59 180.31,454.54 182.27,454.49 184.23,454.46 186.20,454.43 188.16,454.40 190.12,454.38 192.09,454.36 194.05,454.35 196.02,454.34 197.98,454.32 199.94,454.32 201.91,454.31 203.87,454.30 205.83,454.30 207.80,454.29 209.76,454.29 211.73,454.28 213.69,454.28 215.65,454.28 217.62,454.28 219.58,454.28 221.55,454.27 223.51,454.27 225.47,454.27 227.44,454.27 229.40,454.27" stroke-width="1.6" stroke-linejoin="round"/>
<polyline points="72.30,498.17 74.26,498.16 76.23,498.15 78.19,498.14 80.16,498.12 82.12,498.10 84.08,498.08 86.05,498.06 88.01,498.02 89.97,497.99 91.94,497.94 93.90,497.89 95.87,497.83 97.83,497.76 99.79,497.67 101.76,497.57 103.72,497.45 105.68,497.31 107.65,497.14 109.61,496.95 111.58,496.71 113.54,496.44 115.50,496.12 117.47,495.75 119.43,495.31 121.39,494.81 123.36,494.22 125.32,493.55 127.28,492.78 129.25,491.90 131.21,490.91 133.18,489.79 135.14,488.56 137.10,487.19 139.07,485.70 141.03,484.10 143.00,482.40 144.96,480.61 146.92,478.76 148.89,476.88 150.85,474.98 152.81,473.10 154.78,471.27 156.74,469.51 158.70,467.84 160.67,466.27 162.63,464.83 164.60,463.50 166.56,462.31 168.52,461.23 170.49,460.28 172.45,459.44 174.42,458.70 176.38,458.06 178.34,457.50 180.31,457.02 182.27,456.61 184.23,456.25 186.20,455.95 188.16,455.69 190.12,455.47 192.09,455.28 194.05,455.13 196.02,454.99 197.98,454.88 199.94,454.78 201.91,454.70 203.87,454.63 205.83,454.58 207.80,454.53 209.76,454.49 211.73,454.45 213.69,454.42 215.65,454.40 217.62,454.38 219.58,454.36 221.55,454.34 223.51,454.33 225.47,454.32 227.44,454.31 229.40,454.31" stroke-width="1.6" stroke-linejoin="round"/>
<polyline points="72.30,514.86 74.26,514.85 76.23,514.85 78.19,514.84 80.16,514.84 82.12,514.83 84.08,514.82 86.05,514.81 88.01,514.79 89.97,514.78 91.94,514.75 93.90,514.73 95.87,514.70 97.83,514.66 99.79,514.62 101.76,514.56 103.72,514.50 105.68,514.42 107.65,514.32 109.61,514.21 111.58,514.07 113.54,513.90 115.50,513.70 117.47,513.46 119.43,513.18 121.39,512.83 123.36,512.42 125.32,511.94 127.28,511.36 129.25,510.67 131.21,509.86 133.18,508.92 135.14,507.82 137.10,506.54 139.07,505.08 141.03,503.42 143.00,501.55 144.96,499.47 146.92,497.19 148.89,494.72 150.85,492.09 152.81,489.33 154.78,486.49 156.74,483.61 158.70,480.75 160.67,477.96 162.63,475.29 164.60,472.76 166.56,470.41 168.52,468.26 170.49,466.32 172.45,464.59 174.42,463.07 176.38,461.73 178.34,460.57 180.31,459.58 182.27,458.73 184.23,458.00 186.20,457.39 188.16,456.87 190.12,456.44 192.09,456.07 194.05,455.77 196.02,455.51 197.98,455.30 199.94,455.13 201.91,454.98 203.87,454.86 205.83,454.76 207.80,454.67 209.76,454.60 211.73,454.54 213.69,454.50 215.65,454.46 217.62,454.42 219.58,454.40 221.55,454.37 223.51,454.36 225.47,454.34 227.44,454.33 229.40,454.32" stroke-width="1.6" stroke-linejoin="round"/>
<polyline points="72.30,655.11 74.26,655.11 76.23,655.10 78.19,655.10 80.16,655.09 82.12,655.09 84.08,655.08 86.05,655.07 88.01,655.06 89.97,655.05 91.94,655.04 93.90,655.02 95.87,655.00 97.83,654.97 99.79,654.95 101.76,654.91 103.72,654.88 105.68,654.83 107.65,654.78 109.61,654.72 111.58,654.65 113.54,654.57 115.50,654.47 117.47,654.37 119.43,654.25 121.39,654.11 123.36,653.96 125.32,653.80 127.28,653.62 129.25,653.43 131.21,653.22 133.18,653.01 135.14,652.78 137.10,652.56 139.07,652.33 141.03,652.10 143.00,651.88 144.96,651.67 146.92,651.47 148.89,651.28 150.85,651.10 152.81,650.94 154.78,650.80 156.74,650.67 158.70,650.56 160.67,650.45 162.63,650.36 164.60,650.29 166.56,650.22 168.52,650.16 170.49,650.11 172.45,650.07 174.42,650.03 176.38,650.00 178.34,649.98 180.31,649.95 182.27,649.93 184.23,649.92 186.20,649.90 188.16,649.89 190.12,649.88 192.09,649.87 194.05,649.87 196.02,649.86 197.98,649.86 199.94,649.85 201.91,649.85 203.87,649.85 205.83,649.84 207.80,649.84 209.76,649.84 211.73,649.84 213.69,649.84 215.65,649.84 217.62,649.84 219.58,649.83 221.55,649.83 223.51,649.83 225.47,649.83 227.44,649.83 229.40,649.83" stroke-width="1.6" stroke-linejoin="round"/>
<polyline points="72.30,658.18 74.26,658.18 76.23,658.17 78.19,658.16 80.16,658.16 82.12,658.15 84.08,658.13 86.05,658.12 88.01,658.10 89.97,658.08 91.94,658.06 93.90,658.03 95.87,658.00 97.83,657.97 99.79,657.92 101.76,657.87 103.72,657.81 105.68,657.74 107.65,657.65 109.61,657.56 111.58,657.45 113.54,657.32 115.50,657.17 117.47,657.00 119.43,656.81 121.39,656.60 123.36,656.37 125.32,656.11 127.28,655.82 129.25,655.52 131.21,655.19 133.18,654.85 135.14,654.50 137.10,654.14 139.07,653.78 141.03,653.42 143.00,653.07 144.96,652.74 146.92,652.42 148.89,652.12 150.85,651.84 152.81,651.59 154.78,651.36 156.74,651.16 158.70,650.98 160.67,650.82 162.63,650.68 164.60,650.55 166.56,650.45 168.52,650.36 170.49,650.28 172.45,650.21 174.42,650.15 176.38,650.10 178.34,650.06 180.31,650.02 182.27,649.99 184.23,649.97 186.20,649.95 188.16,649.93 190.12,649.91 192.09,649.90 194.05,649.89 196.02,649.88 197.98,649.87 199.94,649.87 201.91,649.86 203.87,649.86 205.83,649.85 207.80,649.85 209.76,649.85 211.73,649.84 213.69,649.84 215.65,649.84 217.62,649.84 219.58,649.84 221.55,649.84 223.51,649.83 225.47,649.83 227.44,649.83 229.40,649.83" stroke-width="1.6" stroke-linejoin="round"/>
<polyline points="72.30,664.11 74.26,664.10 76.23,664.08 78.19,664.06 80.16,664.04 82.12,664.01 84.08,663.98 86.05,663.95 88.01,663.90 89.97,663.85 91.94,663.79 93.90,663.72 95.87,663.63 97.83,663.53 99.79,663.42 101.76,663.28 103.72,663.13 105.68,662.95 107.65,662.74 109.61,662.49 111.58,662.22 113.54,661.91 115.50,661.56 117.47,661.17 119.43,660.73 121.39,660.26 123.36,659.75 125.32,659.21 127.28,658.63 129.25,658.03 131.21,657.42 133.18,656.80 135.14,656.18 137.10,655.58 139.07,655.00 141.03,654.44 143.00,653.92 144.96,653.43 146.92,652.99 148.89,652.58 150.85,652.22 152.81,651.89 154.78,651.61 156.74,651.36 158.70,651.14 160.67,650.94 162.63,650.78 164.60,650.64 166.56,650.52 168.52,650.41 170.49,650.32 172.45,650.25 174.42,650.18 176.38,650.13 178.34,650.08 180.31,650.04 182.27,650.01 184.23,649.98 186.20,649.96 188.16,649.94 190.12,649.92 192.09,649.91 194.05,649.89 196.02,649.88 197.98,649.88 199.94,649.87 201.91,649.86 203.87,649.86 205.83,649.85 207.80,649.85 209.76,649.85 211.73,649.84 213.69,649.84 215.65,649.84 217.62,649.84 219.58,649.84 221.55,649.84 223.51,649.84 225.47,649.83 227.44,649.83 229.40,649.83" stroke-width="1.6" stroke-linejoin="round"/>
<polyline points="72.30,676.98 74.26,676.96 76.23,676.93 78.19,676.89 80.16,676.85 82.12,676.80 84.08,676.74 86.05,676.67 88.01,676.59 89.97,676.49 91.94,676.37 93.90,676.23 95.87,676.07 97.83,675.89 99.79,675.67 101.76,675.41 103.72,675.11 105.68,674.77 107.65,674.37 109.61,673.91 111.58,673.39 113.54,672.79 115.50,672.13 117.47,671.38 119.43,670.56 121.39,669.66 123.36,668.69 125.32,667.66 127.28,666.56 129.25,665.42 131.21,664.26 133.18,663.08 135.14,661.91 137.10,660.76 139.07,659.65 141.03,658.60 143.00,657.60 144.96,656.68 146.92,655.83 148.89,655.06 150.85,654.37 152.81,653.75 154.78,653.21 156.74,652.73 158.70,652.31 160.67,651.95 162.63,651.63 164.60,651.36 166.56,651.13 168.52,650.93 170.49,650.77 172.45,650.62 174.42,650.50 176.38,650.40 178.34,650.31 180.31,650.23 182.27,650.17 184.23,650.12 186.20,650.07 188.16,650.03 190.12,650.00 192.09,649.97 194.05,649.95 196.02,649.93 197.98,649.92 199.94,649.90 201.91,649.89 203.87,649.88 205.83,649.87 207.80,649.87 209.76,649.86 211.73,649.86 213.69,649.85 215.65,649.85 217.62,649.85 219.58,649.84 221.55,649.84 223.51,649.84 225.47,649.84 227.44,649.84 229.40,649.84" stroke-width="1.6" stroke-linejoin="round"/>
<polyline points="72.30,705.82 74.26,705.82 76.23,705.82 78.19,705.82 80.16,705.82 82.12,705.81 84.08,705.81 86.05,705.81 88.01,705.80 89.97,705.79 91.94,705.79 93.90,705.77 95.87,705.76 97.83,705.74 99.79,705.71 101.76,705.68 103.72,705.64 105.68,705.58 107.65,705.51 109.61,705.42 111.58,705.30 113.54,705.15 115.50,704.95 117.47,704.70 119.43,704.37 121.39,703.96 123.36,703.43 125.32,702.76 127.28,701.92 129.25,700.87 131.21,699.56 133.18,697.97 135.14,696.06 137.10,693.79 139.07,691.16 141.03,688.19 143.00,684.92 144.96,681.43 146.92,677.83 148.89,674.22 150.85,670.73 152.81,667.47 154.78,664.49 156.74,661.87 158.70,659.60 160.67,657.68 162.63,656.09 164.60,654.79 166.56,653.74 168.52,652.89 170.49,652.22 172.45,651.70 174.42,651.28 176.38,650.96 178.34,650.70 180.31,650.51 182.27,650.35 184.23,650.24 186.20,650.14 188.16,650.07 190.12,650.02 192.09,649.97 194.05,649.94 196.02,649.92 197.98,649.90 199.94,649.88 201.91,649.87 203.87,649.86 205.83,649.85 207.80,649.85 209.76,649.84 211.73,649.84 213.69,649.84 215.65,649.84 217.62,649.84 219.58,649.83 221.55,649.83 223.51,649.83 225.47,649.83 227.44,649.83 229.40,649.83" stroke-width="1.6" stroke-linejoin="round"/>
<polyline points="72.30,714.07 74.26,714.07 76.23,714.07 78.19,714.06 80.16,714.06 82.12,714.05 84.08,714.05 86.05,714.04 88.01,714.03 89.97,714.02 91.94,714.00 93.90,713.98 95.87,713.96 97.83,713.93 99.79,713.89 101.76,713.85 103.72,713.79 105.68,713.71 107.65,713.62 109.61,713.51 111.58,713.37 113.54,713.19 115.50,712.97 117.47,712.70 119.43,712.36 121.39,711.94 123.36,711.42 125.32,710.79 127.28,710.01 129.25,709.07 131.21,707.93 133.18,706.56 135.14,704.93 137.10,703.03 139.07,700.82 141.03,698.30 143.00,695.48 144.96,692.38 146.92,689.05 148.89,685.55 150.85,681.95 152.81,678.36 154.78,674.86 156.74,671.53 158.70,668.43 160.67,665.61 162.63,663.09 164.60,660.88 166.56,658.98 168.52,657.35 170.49,655.98 172.45,654.84 174.42,653.90 176.38,653.12 178.34,652.49 180.31,651.97 182.27,651.55 184.23,651.21 186.20,650.94 188.16,650.72 190.12,650.54 192.09,650.40 194.05,650.29 196.02,650.20 197.98,650.12 199.94,650.06 201.91,650.02 203.87,649.98 205.83,649.95 207.80,649.93 209.76,649.91 211.73,649.89 213.69,649.88 215.65,649.87 217.62,649.86 219.58,649.86 221.55,649.85 223.51,649.85 225.47,649.84 227.44,649.84 229.40,649.84" stroke-width="1.6" stroke-linejoin="round"/>
<polyline points="375.60,133.16 377.35,133.16 379.09,133.16 380.84,133.16 382.59,133.16 384.33,133.16 386.08,133.16 387.83,133.16 389.57,133.15 391.32,133.15 393.07,133.15 394.81,133.15 396.56,133.15 398.31,133.15 400.05,133.15 401.80,133.15 403.55,133.15 405.29,133.15 407.04,133.15 408.79,133.14 410.53,133.14 412.28,133.14 414.03,133.14 415.77,133.13 417.52,133.13 419.27,133.12 421.01,133.11 422.76,133.10 424.51,133.09 426.25,133.07 428.00,133.05 429.75,133.03 431.50,133.00 433.24,132.97 434.99,132.93 436.74,132.88 438.48,132.81 440.23,132.74 441.98,132.65 443.72,132.53 445.47,132.40 447.22,132.23 448.96,132.02 450.71,131.78 452.46,131.48 454.20,131.11 455.95,130.67 457.70,130.14 459.44,129.51 461.19,128.74 462.94,127.84 464.68,126.76 466.43,125.49 468.18,124.01 469.92,122.29 471.67,120.32 473.42,118.08 475.16,115.58 476.91,112.82 478.66,109.83 480.40,106.63 482.15,103.29 483.90,99.86 485.64,96.41 487.39,93.01 489.14,89.73 490.88,86.62 492.63,83.72 494.38,81.07 496.12,78.68 497.87,76.56 499.62,74.70 501.36,73.08 503.11,71.69 504.86,70.51 506.60,69.51 508.35,68.67 510.10,67.96 511.84,67.37 513.59,66.88 515.34,66.48" stroke-width="1.6" stroke-linejoin="round"/>
<polyline points="375.60,133.16 377.35,133.16 379.09,133.16 380.84,133.15 382.59,133.15 384.33,133.15 386.08,133.15 387.83,133.15 389.57,133.15 391.32,133.15 393.07,133.15 394.81,133.15 396.56,133.15 398.31,133.15 400.05,133.15 401.80,133.14 403.55,133.14 405.29,133.14 407.04,133.13 408.79,133.13 410.53,133.12 412.28,133.12 414.03,133.11 415.77,133.10 417.52,133.08 419.27,133.07 421.01,133.05 422.76,133.03 424.51,133.00 426.25,132.96 428.00,132.92 429.75,132.87 431.50,132.80 433.24,132.72 434.99,132.63 436.74,132.51 438.48,132.37 440.23,132.19 441.98,131.98 443.72,131.72 445.47,131.41 447.22,131.04 448.96,130.58 450.71,130.03 452.46,129.37 454.20,128.58 455.95,127.64 457.70,126.52 459.44,125.20 461.19,123.66 462.94,121.88 464.68,119.84 466.43,117.52 468.18,114.92 469.92,112.06 471.67,108.95 473.42,105.64 475.16,102.17 476.91,98.61 478.66,95.04 480.40,91.51 482.15,88.10 483.90,84.87 485.64,81.86 487.39,79.11 489.14,76.64 490.88,74.44 492.63,72.50 494.38,70.83 496.12,69.39 497.87,68.16 499.62,67.12 501.36,66.25 503.11,65.51 504.86,64.90 506.60,64.40 508.35,63.97 510.10,63.63 511.84,63.34 513.59,63.10 515.34,62.91" stroke-width="1.6" stroke-linejoin="round"/>
<polyline points="375.60,129.72 377.35,129.72 379.09,129.72 380.84,129.72 382.59,129.71 384.33,129.71 386.08,129.71 387.83,129.70 389.57,129.69 391.32,129.69 393.07,129.68 394.81,129.67 396.56,129.65 398.31,129.63 400.05,129.61 401.80,129.59 403.55,129.56 405.29,129.52 407.04,129.47 408.79,129.41 410.53,129.34 412.28,129.26 414.03,129.16 415.77,129.03 417.52,128.88 419.27,128.69 421.01,128.46 422.76,128.18 424.51,127.85 426.25,127.44 428.00,126.95 429.75,126.36 431.50,125.66 433.24,124.82 434.99,123.81 436.74,122.63 438.48,121.24 440.23,119.63 441.98,117.77 443.72,115.64 445.47,113.26 447.22,110.61 448.96,107.71 450.71,104.59 452.46,101.31 454.20,97.91 455.95,94.46 457.70,91.03 459.44,87.69 461.19,84.50 462.94,81.50 464.68,78.74 466.43,76.24 468.18,74.01 469.92,72.04 471.67,70.32 473.42,68.83 475.16,67.57 476.91,66.49 478.66,65.58 480.40,64.82 482.15,64.18 483.90,63.65 485.64,63.21 487.39,62.85 489.14,62.55 490.88,62.30 492.63,62.10 494.38,61.93 496.12,61.79 497.87,61.68 499.62,61.59 501.36,61.51 503.11,61.45 504.86,61.40 506.60,61.36 508.35,61.32 510.10,61.29 511.84,61.27 513.59,61.25 515.34,61.24" stroke-width="1.6" stroke-linejoin="round"/>
<polyline points="375.60,127.15 377.35,127.15 379.09,127.15 380.84,127.15 382.59,127.15 384.33,127.15 386.08,127.14 387.83,127.14 389.57,127.14 391.32,127.13 393.07,127.13 394.81,127.12 396.56,127.11 398.31,127.10 400.05,127.09 401.80,127.07 403.55,127.05 405.29,127.03 407.04,127.00 408.79,126.97 410.53,126.93 412.28,126.88 414.03,126.81 415.77,126.74 417.52,126.64 419.27,126.53 421.01,126.39 422.76,126.22 424.51,126.02 426.25,125.77 428.00,125.47 429.75,125.10 431.50,124.66 433.24,124.13 434.99,123.50 436.74,122.73 438.48,121.83 440.23,120.75 441.98,119.49 443.72,118.02 445.47,116.32 447.22,114.38 448.96,112.18 450.71,109.73 452.46,107.05 454.20,104.14 455.95,101.06 457.70,97.86 459.44,94.59 461.19,91.32 462.94,88.12 464.68,85.04 466.43,82.14 468.18,79.45 469.92,77.00 471.67,74.80 473.42,72.86 475.16,71.16 476.91,69.69 478.66,68.43 480.40,67.35 482.15,66.45 483.90,65.69 485.64,65.05 487.39,64.52 489.14,64.08 490.88,63.71 492.63,63.41 494.38,63.16 496.12,62.96 497.87,62.79 499.62,62.65 501.36,62.54 503.11,62.45 504.86,62.37 506.60,62.31 508.35,62.26 510.10,62.21 511.84,62.18 513.59,62.15 515.34,62.13" stroke-width="1.6" stroke-linejoin="round"/>
<polyline points="375.60,123.29 377.35,123.29 379.09,123.29 380.84,123.29 382.59,123.28 384.33,123.28 386.08,123.27 387.83,123.27 389.57,123.26 391.32,123.25 393.07,123.24 394.81,123.23 396.56,123.21 398.31,123.19 400.05,123.17 401.80,123.14 403.55,123.11 405.29,123.06 407.04,123.01 408.79,122.95 410.53,122.87 412.28,122.77 414.03,122.66 415.77,122.52 417.52,122.34 419.27,122.14 421.01,121.88 422.76,121.57 424.51,121.20 426.25,120.75 428.00,120.21 429.75,119.56 431.50,118.79 433.24,117.87 434.99,116.79 436.74,115.52 438.48,114.05 440.23,112.35 441.98,110.42 443.72,108.25 445.47,105.85 447.22,103.23 448.96,100.43 450.71,97.47 452.46,94.42 454.20,91.34 455.95,88.28 457.70,85.31 459.44,82.48 461.19,79.83 462.94,77.40 464.68,75.20 466.43,73.23 468.18,71.50 469.92,70.00 471.67,68.70 473.42,67.60 475.16,66.66 476.91,65.86 478.66,65.20 480.40,64.65 482.15,64.18 483.90,63.80 485.64,63.48 487.39,63.22 489.14,63.01 490.88,62.83 492.63,62.69 494.38,62.57 496.12,62.47 497.87,62.39 499.62,62.32 501.36,62.27 503.11,62.22 504.86,62.19 506.60,62.16 508.35,62.13 510.10,62.11 511.84,62.10 513.59,62.08 515.34,62.07" stroke-width="1.6" stroke-linejoin="round"/>
<polyline points="375.60,119.43 377.35,119.43 379.09,119.43 380.84,119.42 382.59,119.42 384.33,119.41 386.08,119.41 387.83,119.40 389.57,119.39 391.32,119.37 393.07,119.36 394.81,119.34 396.56,119.32 398.31,119.29 400.05,119.25 401.80,119.21 403.55,119.16 405.29,119.09 407.04,119.02 408.79,118.92 410.53,118.81 412.28,118.67 414.03,118.50 415.77,118.29 417.52,118.04 419.27,117.73 421.01,117.36 422.76,116.92 424.51,116.39 426.25,115.75 428.00,114.99 429.75,114.09 431.50,113.02 433.24,111.78 434.99,110.34 436.74,108.69 438.48,106.82 440.23,104.72 441.98,102.41 443.72,99.90 445.47,97.23 447.22,94.43 448.96,91.56 450.71,88.67 452.46,85.83 454.20,83.07 455.95,80.47 457.70,78.04 459.44,75.82 461.19,73.82 462.94,72.04 464.68,70.48 466.43,69.13 468.18,67.97 469.92,66.98 471.67,66.14 473.42,65.43 475.16,64.84 476.91,64.35 478.66,63.94 480.40,63.60 482.15,63.32 483.90,63.09 485.64,62.90 487.39,62.74 489.14,62.61 490.88,62.50 492.63,62.42 494.38,62.35 496.12,62.29 497.87,62.24 499.62,62.20 501.36,62.17 503.11,62.14 504.86,62.12 506.60,62.10 508.35,62.09 510.10,62.08 511.84,62.07 513.59,62.06 515.34,62.05" stroke-width="1.6" stroke-linejoin="round"/>
<polyline points="375.60,125.41 377.35,125.40 379.09,125.39 380.84,125.38 382.59,125.37 384.33,125.35 386.08,125.33 387.83,125.31 389.57,125.27 391.32,125.24 393.07,125.19 394.81,125.14 396.56,125.07 398.31,124.98 400.05,124.88 401.80,124.76 403.55,124.61 405.29,124.42 407.04,124.20 408.79,123.93 410.53,123.59 412.28,123.19 414.03,122.71 415.77,122.12 417.52,121.41 419.27,120.57 421.01,119.55 422.76,118.35 424.51,116.93 426.25,115.26 428.00,113.31 429.75,111.06 431.50,108.50 433.24,105.60 434.99,102.38 436.74,98.86 438.48,95.06 440.23,91.04 441.98,86.87 443.72,82.63 445.47,78.40 447.22,74.26 448.96,70.30 450.71,66.58 452.46,63.14 454.20,60.01 455.95,57.21 457.70,54.74 459.44,52.58 461.19,50.71 462.94,49.11 464.68,47.76 466.43,46.61 468.18,45.65 469.92,44.84 471.67,44.17 473.42,43.62 475.16,43.16 476.91,42.78 478.66,42.46 480.40,42.20 482.15,41.99 483.90,41.82 485.64,41.68 487.39,41.56 489.14,41.46 490.88,41.38 492.63,41.32 494.38,41.27 496.12,41.22 497.87,41.19 499.62,41.16 501.36,41.13 503.11,41.12 504.86,41.10 506.60,41.09 508.35,41.08 510.10,41.07 511.84,41.06 513.59,41.05 515.34,41.05" stroke-width="1.6" stroke-linejoin="round"/>
<polyline points="375.30,322.88 377.05,322.88 378.80,322.88 380.55,322.88 382.30,322.88 384.05,322.88 385.80,322.88 387.55,322.88 389.30,322.88 391.05,322.88 392.80,322.88 394.55,322.88 396.30,322.88 398.05,322.88 399.80,322.87 401.55,322.87 403.30,322.87 405.05,322.86 406.80,322.86 408.55,322.86 410.30,322.85 412.05,322.84 413.80,322.83 415.55,322.82 417.30,322.81 419.05,322.79 420.80,322.77 422.55,322.75 424.30,322.72 426.05,322.68 427.80,322.64 429.55,322.59 431.30,322.52 433.05,322.45 434.80,322.36 436.55,322.25 438.30,322.11 440.05,321.95 441.80,321.76 443.55,321.53 445.30,321.25 447.05,320.91 448.80,320.51 450.55,320.04 452.30,319.47 454.05,318.79 455.80,318.00 457.55,317.06 459.30,315.97 461.05,314.71 462.80,313.25 464.55,311.59 466.30,309.71 468.05,307.61 469.80,305.30 471.55,302.79 473.30,300.11 475.05,297.28 476.80,294.36 478.55,291.39 480.30,288.43 482.05,285.54 483.80,282.75 485.55,280.11 487.30,277.65 489.05,275.40 490.80,273.37 492.55,271.55 494.30,269.95 496.05,268.55 497.80,267.34 499.55,266.29 501.30,265.40 503.05,264.64 504.80,264.00 506.55,263.46 508.30,263.00 510.05,262.62 511.80,262.31 513.55,262.04 515.30,261.82" stroke-width="1.6" stroke-linejoin="round"/>
<polyline points="375.30,320.48 377.05,320.48 378.80,320.48 380.55,320.47 382.30,320.47 384.05,320.47 385.80,320.47 387.55,320.46 389.30,320.46 391.05,320.45 392.80,320.44 394.55,320.43 396.30,320.42 398.05,320.40 399.80,320.39 401.55,320.36 403.30,320.34 405.05,320.30 406.80,320.26 408.55,320.21 410.30,320.15 412.05,320.07 413.80,319.98 415.55,319.87 417.30,319.74 419.05,319.57 420.80,319.37 422.55,319.13 424.30,318.84 426.05,318.48 427.80,318.05 429.55,317.53 431.30,316.92 433.05,316.18 434.80,315.30 436.55,314.26 438.30,313.04 440.05,311.62 441.80,309.99 443.55,308.13 445.30,306.03 447.05,303.71 448.80,301.16 450.55,298.43 452.30,295.55 454.05,292.57 455.80,289.54 457.55,286.53 459.30,283.60 461.05,280.80 462.80,278.17 464.55,275.75 466.30,273.55 468.05,271.59 469.80,269.86 471.55,268.35 473.30,267.05 475.05,265.94 476.80,264.99 478.55,264.20 480.30,263.53 482.05,262.97 483.80,262.50 485.55,262.12 487.30,261.80 489.05,261.54 490.80,261.32 492.55,261.14 494.30,260.99 496.05,260.87 497.80,260.77 499.55,260.69 501.30,260.62 503.05,260.57 504.80,260.53 506.55,260.49 508.30,260.46 510.05,260.43 511.80,260.41 513.55,260.40 515.30,260.38" stroke-width="1.6" stroke-linejoin="round"/>
<polyline points="375.30,318.68 377.05,318.68 378.80,318.68 380.55,318.68 382.30,318.67 384.05,318.67 385.80,318.67 387.55,318.66 389.30,318.65 391.05,318.64 392.80,318.63 394.55,318.61 396.30,318.59 398.05,318.56 399.80,318.53 401.55,318.48 403.30,318.42 405.05,318.34 406.80,318.24 408.55,318.11 410.30,317.94 412.05,317.71 413.80,317.43 415.55,317.06 417.30,316.60 419.05,316.00 420.80,315.24 422.55,314.29 424.30,313.10 426.05,311.63 427.80,309.83 429.55,307.68 431.30,305.15 433.05,302.24 434.80,298.98 436.55,295.43 438.30,291.69 440.05,287.87 441.80,284.11 443.55,280.53 445.30,277.22 447.05,274.25 448.80,271.67 450.55,269.46 452.30,267.62 454.05,266.11 455.80,264.88 457.55,263.89 459.30,263.11 461.05,262.49 462.80,262.01 464.55,261.63 466.30,261.33 468.05,261.10 469.80,260.93 471.55,260.79 473.30,260.68 475.05,260.60 476.80,260.54 478.55,260.49 480.30,260.45 482.05,260.42 483.80,260.40 485.55,260.38 487.30,260.37 489.05,260.36 490.80,260.35 492.55,260.34 494.30,260.34 496.05,260.34 497.80,260.33 499.55,260.33 501.30,260.33 503.05,260.33 504.80,260.33 506.55,260.33 508.30,260.33 510.05,260.33 511.80,260.33 513.55,260.33 515.30,260.33" stroke-width="1.6" stroke-linejoin="round"/>
<polyline points="375.30,306.99 377.05,306.99 378.80,306.98 380.55,306.96 382.30,306.95 384.05,306.93 385.80,306.91 387.55,306.88 389.30,306.85 391.05,306.80 392.80,306.75 394.55,306.69 396.30,306.62 398.05,306.53 399.80,306.42 401.55,306.28 403.30,306.12 405.05,305.92 406.80,305.68 408.55,305.39 410.30,305.03 412.05,304.61 413.80,304.10 415.55,303.50 417.30,302.78 419.05,301.94 420.80,300.95 422.55,299.81 424.30,298.49 426.05,296.99 427.80,295.31 429.55,293.46 431.30,291.44 433.05,289.28 434.80,287.02 436.55,284.69 438.30,282.33 440.05,280.01 441.80,277.76 443.55,275.62 445.30,273.62 447.05,271.79 448.80,270.14 450.55,268.67 452.30,267.38 454.05,266.25 455.80,265.29 457.55,264.46 459.30,263.76 461.05,263.17 462.80,262.68 464.55,262.27 466.30,261.92 468.05,261.64 469.80,261.41 471.55,261.21 473.30,261.05 475.05,260.92 476.80,260.81 478.55,260.73 480.30,260.65 482.05,260.59 483.80,260.54 485.55,260.50 487.30,260.47 489.05,260.44 490.80,260.42 492.55,260.41 494.30,260.39 496.05,260.38 497.80,260.37 499.55,260.36 501.30,260.35 503.05,260.35 504.80,260.34 506.55,260.34 508.30,260.34 510.05,260.34 511.80,260.33 513.55,260.33 515.30,260.33" stroke-width="1.6" stroke-linejoin="round"/>
<polyline points="375.30,306.13 377.05,306.12 378.80,306.11 380.55,306.09 382.30,306.07 384.05,306.05 385.80,306.02 387.55,305.99 389.30,305.95 391.05,305.89 392.80,305.83 394.55,305.76 396.30,305.67 398.05,305.55 399.80,305.42 401.55,305.25 403.30,305.05 405.05,304.81 406.80,304.51 408.55,304.16 410.30,303.73 412.05,303.22 413.80,302.62 415.55,301.90 417.30,301.05 419.05,300.06 420.80,298.91 422.55,297.59 424.30,296.09 426.05,294.42 427.80,292.57 429.55,290.57 431.30,288.44 433.05,286.20 434.80,283.91 436.55,281.60 438.30,279.33 440.05,277.13 441.80,275.05 443.55,273.11 445.30,271.34 447.05,269.74 448.80,268.32 450.55,267.08 452.30,266.00 454.05,265.07 455.80,264.28 457.55,263.61 459.30,263.05 461.05,262.57 462.80,262.18 464.55,261.85 466.30,261.58 468.05,261.36 469.80,261.17 471.55,261.02 473.30,260.89 475.05,260.79 476.80,260.71 478.55,260.64 480.30,260.58 482.05,260.53 483.80,260.50 485.55,260.46 487.30,260.44 489.05,260.42 490.80,260.40 492.55,260.39 494.30,260.38 496.05,260.37 497.80,260.36 499.55,260.35 501.30,260.35 503.05,260.34 504.80,260.34 506.55,260.34 508.30,260.33 510.05,260.33 511.80,260.33 513.55,260.33 515.30,260.33" stroke-width="1.6" stroke-linejoin="round"/>
<polyline points="375.30,304.40 377.05,304.39 378.80,304.38 380.55,304.36 382.30,304.34 384.05,304.31 385.80,304.27 387.55,304.23 389.30,304.18 391.05,304.12 392.80,304.05 394.55,303.96 396.30,303.85 398.05,303.71 399.80,303.55 401.55,303.35 403.30,303.11 405.05,302.82 406.80,302.47 408.55,302.05 410.30,301.54 412.05,300.94 413.80,300.23 415.55,299.40 417.30,298.42 419.05,297.29 420.80,296.00 422.55,294.54 424.30,292.90 426.05,291.10 427.80,289.15 429.55,287.08 431.30,284.92 433.05,282.71 434.80,280.49 436.55,278.31 438.30,276.21 440.05,274.22 441.80,272.38 443.55,270.70 445.30,269.19 447.05,267.84 448.80,266.67 450.55,265.65 452.30,264.78 454.05,264.03 455.80,263.40 457.55,262.87 459.30,262.43 461.05,262.06 462.80,261.75 464.55,261.50 466.30,261.29 468.05,261.12 469.80,260.98 471.55,260.86 473.30,260.76 475.05,260.68 476.80,260.62 478.55,260.56 480.30,260.52 482.05,260.49 483.80,260.46 485.55,260.43 487.30,260.41 489.05,260.40 490.80,260.38 492.55,260.37 494.30,260.36 496.05,260.36 497.80,260.35 499.55,260.35 501.30,260.34 503.05,260.34 504.80,260.34 506.55,260.33 508.30,260.33 510.05,260.33 511.80,260.33 513.55,260.33 515.30,260.33" stroke-width="1.6" stroke-linejoin="round"/>
<polyline points="375.30,321.59 377.05,321.59 378.80,321.58 380.55,321.58 382.30,321.58 384.05,321.57 385.80,321.56 387.55,321.55 389.30,321.54 391.05,321.52 392.80,321.50 394.55,321.47 396.30,321.43 398.05,321.38 399.80,321.33 401.55,321.25 403.30,321.16 405.05,321.04 406.80,320.88 408.55,320.69 410.30,320.44 412.05,320.13 413.80,319.74 415.55,319.24 417.30,318.62 419.05,317.84 420.80,316.87 422.55,315.67 424.30,314.19 426.05,312.38 427.80,310.20 429.55,307.59 431.30,304.53 433.05,301.00 434.80,296.99 436.55,292.56 438.30,287.78 440.05,282.75 441.80,277.63 443.55,272.54 445.30,267.64 447.05,263.04 448.80,258.85 450.55,255.11 452.30,251.85 454.05,249.05 455.80,246.69 457.55,244.73 459.30,243.11 461.05,241.80 462.80,240.73 464.55,239.88 466.30,239.19 468.05,238.65 469.80,238.21 471.55,237.87 473.30,237.60 475.05,237.38 476.80,237.21 478.55,237.08 480.30,236.97 482.05,236.89 483.80,236.82 485.55,236.77 487.30,236.73 489.05,236.70 490.80,236.68 492.55,236.66 494.30,236.64 496.05,236.63 497.80,236.62 499.55,236.61 501.30,236.61 503.05,236.60 504.80,236.60 506.55,236.60 508.30,236.59 510.05,236.59 511.80,236.59 513.55,236.59 515.30,236.59" stroke-width="1.6" stroke-linejoin="round"/>
<polyline points="375.80,516.24 377.56,516.24 379.32,516.24 381.08,516.24 382.84,516.24 384.60,516.24 386.36,516.24 388.12,516.24 389.88,516.24 391.64,516.24 393.40,516.24 395.16,516.24 396.92,516.24 398.68,516.24 400.44,516.24 402.20,516.24 403.96,516.24 405.72,516.24 407.48,516.24 409.24,516.24 411.00,516.23 412.76,516.23 414.52,516.23 416.28,516.23 418.04,516.23 419.80,516.22 421.56,516.22 423.32,516.21 425.08,516.21 426.84,516.20 428.60,516.19 430.36,516.17 432.12,516.15 433.87,516.13 435.63,516.10 437.39,516.06 439.15,516.01 440.91,515.95 442.67,515.88 444.43,515.78 446.19,515.65 447.95,515.49 449.71,515.29 451.47,515.04 453.23,514.72 454.99,514.32 456.75,513.81 458.51,513.19 460.27,512.41 462.03,511.45 463.79,510.28 465.55,508.86 467.31,507.16 469.07,505.17 470.83,502.85 472.59,500.23 474.35,497.31 476.11,494.15 477.87,490.81 479.63,487.40 481.39,483.99 483.15,480.70 484.91,477.60 486.67,474.77 488.43,472.23 490.19,470.00 491.95,468.10 493.71,466.48 495.47,465.14 497.23,464.03 498.99,463.12 500.75,462.39 502.51,461.80 504.27,461.33 506.03,460.96 507.79,460.66 509.55,460.42 511.31,460.23 513.07,460.08 514.83,459.97 516.59,459.87" stroke-width="1.6" stroke-linejoin="round"/>
<polyline points="375.80,513.11 377.56,513.11 379.32,513.11 381.08,513.11 382.84,513.11 384.60,513.11 386.36,513.11 388.12,513.11 389.88,513.11 391.64,513.11 393.40,513.11 395.16,513.11 396.92,513.11 398.68,513.11 400.44,513.11 402.20,513.11 403.96,513.11 405.72,513.11 407.48,513.11 409.24,513.11 411.00,513.10 412.76,513.10 414.52,513.10 416.28,513.10 418.04,513.09 419.80,513.08 421.56,513.08 423.32,513.06 425.08,513.05 426.84,513.03 428.60,513.01 430.36,512.99 432.12,512.95 433.87,512.91 435.63,512.85 437.39,512.78 439.15,512.68 440.91,512.57 442.67,512.42 444.43,512.23 446.19,512.00 447.95,511.70 449.71,511.33 451.47,510.86 453.23,510.28 454.99,509.55 456.75,508.66 458.51,507.56 460.27,506.23 462.03,504.65 463.79,502.77 465.55,500.59 467.31,498.11 469.07,495.34 470.83,492.34 472.59,489.15 474.35,485.88 476.11,482.60 477.87,479.42 479.63,476.41 481.39,473.65 483.15,471.16 484.91,468.99 486.67,467.11 488.43,465.52 490.19,464.19 491.95,463.10 493.71,462.20 495.47,461.48 497.23,460.89 498.99,460.43 500.75,460.05 502.51,459.76 504.27,459.52 506.03,459.33 507.79,459.19 509.55,459.07 511.31,458.98 513.07,458.91 514.83,458.85 516.59,458.81" stroke-width="1.6" stroke-linejoin="round"/>
<polyline points="375.80,507.75 377.56,507.75 379.32,507.75 381.08,507.75 382.84,507.75 384.60,507.74 386.36,507.74 388.12,507.74 389.88,507.73 391.64,507.73 393.40,507.72 395.16,507.71 396.92,507.70 398.68,507.69 400.44,507.67 402.20,507.66 403.96,507.63 405.72,507.61 407.48,507.57 409.24,507.53 411.00,507.48 412.76,507.42 414.52,507.35 416.28,507.26 418.04,507.15 419.80,507.01 421.56,506.85 423.32,506.65 425.08,506.41 426.84,506.12 428.60,505.77 430.36,505.35 432.12,504.84 433.87,504.24 435.63,503.52 437.39,502.67 439.15,501.68 440.91,500.52 442.67,499.19 444.43,497.67 446.19,495.96 447.95,494.06 449.71,491.98 451.47,489.75 453.23,487.40 454.99,484.96 456.75,482.49 458.51,480.04 460.27,477.64 462.03,475.35 463.79,473.21 465.55,471.23 467.31,469.44 469.07,467.84 470.83,466.43 472.59,465.20 474.35,464.13 476.11,463.22 477.87,462.45 479.63,461.80 481.39,461.26 483.15,460.80 484.91,460.42 486.67,460.11 488.43,459.84 490.19,459.63 491.95,459.45 493.71,459.31 495.47,459.19 497.23,459.09 498.99,459.01 500.75,458.94 502.51,458.89 504.27,458.84 506.03,458.80 507.79,458.78 509.55,458.75 511.31,458.73 513.07,458.71 514.83,458.70 516.59,458.69" stroke-width="1.6" stroke-linejoin="round"/>
<polyline points="375.80,487.65 377.56,487.65 379.32,487.65 381.08,487.65 382.84,487.64 384.60,487.64 386.36,487.63 388.12,487.63 389.88,487.62 391.64,487.61 393.40,487.59 395.16,487.58 396.92,487.56 398.68,487.54 400.44,487.51 402.20,487.48 403.96,487.43 405.72,487.38 407.48,487.32 409.24,487.25 411.00,487.16 412.76,487.05 414.52,486.91 416.28,486.75 418.04,486.55 419.80,486.32 421.56,486.03 423.32,485.69 425.08,485.29 426.84,484.81 428.60,484.25 430.36,483.59 432.12,482.84 433.87,481.97 435.63,480.99 437.39,479.90 439.15,478.70 440.91,477.41 442.67,476.04 444.43,474.61 446.19,473.15 447.95,471.70 449.71,470.27 451.47,468.90 453.23,467.60 454.99,466.40 456.75,465.31 458.51,464.33 460.27,463.47 462.03,462.71 463.79,462.06 465.55,461.49 467.31,461.02 469.07,460.61 470.83,460.27 472.59,459.99 474.35,459.75 476.11,459.56 477.87,459.39 479.63,459.26 481.39,459.15 483.15,459.06 484.91,458.98 486.67,458.92 488.43,458.87 490.19,458.83 491.95,458.79 493.71,458.77 495.47,458.74 497.23,458.72 498.99,458.71 500.75,458.70 502.51,458.69 504.27,458.68 506.03,458.67 507.79,458.67 509.55,458.66 511.31,458.66 513.07,458.65 514.83,458.65 516.59,458.65" stroke-width="1.6" stroke-linejoin="round"/>
<polyline points="375.80,484.09 377.56,484.09 379.32,484.08 381.08,484.08 382.84,484.08 384.60,484.08 386.36,484.07 388.12,484.07 389.88,484.07 391.64,484.06 393.40,484.05 395.16,484.05 396.92,484.03 398.68,484.02 400.44,484.01 402.20,483.99 403.96,483.96 405.72,483.94 407.48,483.90 409.24,483.86 411.00,483.81 412.76,483.75 414.52,483.67 416.28,483.58 418.04,483.47 419.80,483.33 421.56,483.17 423.32,482.97 425.08,482.74 426.84,482.45 428.60,482.12 430.36,481.72 432.12,481.25 433.87,480.70 435.63,480.06 437.39,479.33 439.15,478.50 440.91,477.57 442.67,476.54 444.43,475.43 446.19,474.25 447.95,473.01 449.71,471.73 451.47,470.45 453.23,469.19 454.99,467.97 456.75,466.82 458.51,465.74 460.27,464.76 462.03,463.87 463.79,463.08 465.55,462.39 467.31,461.79 469.07,461.28 470.83,460.84 472.59,460.46 474.35,460.15 476.11,459.89 477.87,459.67 479.63,459.49 481.39,459.34 483.15,459.21 484.91,459.11 486.67,459.03 488.43,458.96 490.19,458.90 491.95,458.85 493.71,458.81 495.47,458.78 497.23,458.76 498.99,458.74 500.75,458.72 502.51,458.70 504.27,458.69 506.03,458.68 507.79,458.68 509.55,458.67 511.31,458.66 513.07,458.66 514.83,458.66 516.59,458.65" stroke-width="1.6" stroke-linejoin="round"/>
<polyline points="375.80,505.92 377.56,505.91 379.32,505.90 381.08,505.89 382.84,505.87 384.60,505.85 386.36,505.82 388.12,505.78 389.88,505.74 391.64,505.69 393.40,505.63 395.16,505.56 396.92,505.46 398.68,505.35 400.44,505.21 402.20,505.05 403.96,504.84 405.72,504.60 407.48,504.30 409.24,503.93 411.00,503.49 412.76,502.96 414.52,502.32 416.28,501.55 418.04,500.63 419.80,499.53 421.56,498.23 423.32,496.70 425.08,494.91 426.84,492.85 428.60,490.48 430.36,487.80 432.12,484.80 433.87,481.51 435.63,477.94 437.39,474.15 439.15,470.19 440.91,466.14 442.67,462.08 444.43,458.09 446.19,454.24 447.95,450.61 449.71,447.23 451.47,444.15 453.23,441.38 454.99,438.92 456.75,436.77 458.51,434.91 460.27,433.31 462.03,431.94 463.79,430.79 465.55,429.82 467.31,429.01 469.07,428.33 470.83,427.77 472.59,427.31 474.35,426.92 476.11,426.61 477.87,426.34 479.63,426.13 481.39,425.95 483.15,425.81 484.91,425.69 486.67,425.59 488.43,425.51 490.19,425.45 491.95,425.39 493.71,425.35 495.47,425.31 497.23,425.29 498.99,425.26 500.75,425.24 502.51,425.23 504.27,425.21 506.03,425.20 507.79,425.19 509.55,425.19 511.31,425.18 513.07,425.17 514.83,425.17 516.59,425.17" stroke-width="1.6" stroke-linejoin="round"/>
<polyline points="375.30,711.42 377.05,711.42 378.80,711.42 380.55,711.42 382.30,711.42 384.05,711.42 385.80,711.42 387.55,711.42 389.30,711.42 391.05,711.42 392.80,711.42 394.55,711.42 396.30,711.42 398.05,711.42 399.80,711.42 401.55,711.42 403.30,711.42 405.05,711.42 406.80,711.42 408.55,711.42 410.30,711.42 412.05,711.42 413.80,711.42 415.55,711.42 417.30,711.42 419.05,711.41 420.80,711.41 422.55,711.41 424.30,711.40 426.05,711.40 427.80,711.39 429.55,711.38 431.30,711.37 433.05,711.36 434.80,711.34 436.55,711.32 438.30,711.29 440.05,711.25 441.80,711.20 443.55,711.14 445.30,711.07 447.05,710.97 448.80,710.85 450.55,710.70 452.30,710.50 454.05,710.26 455.80,709.95 457.55,709.56 459.30,709.07 461.05,708.46 462.80,707.71 464.55,706.79 466.30,705.66 468.05,704.30 469.80,702.68 471.55,700.79 473.30,698.60 475.05,696.14 476.80,693.42 478.55,690.49 480.30,687.43 482.05,684.32 483.80,681.25 485.55,678.30 487.30,675.54 489.05,673.04 490.80,670.81 492.55,668.88 494.30,667.22 496.05,665.83 497.80,664.67 499.55,663.72 501.30,662.94 503.05,662.32 504.80,661.81 506.55,661.41 508.30,661.09 510.05,660.84 511.80,660.63 513.55,660.47 515.30,660.35" stroke-width="1.6" stroke-linejoin="round"/>
<polyline points="375.30,711.42 377.05,711.42 378.80,711.42 380.55,711.42 382.30,711.42 384.05,711.42 385.80,711.42 387.55,711.42 389.30,711.42 391.05,711.42 392.80,711.42 394.55,711.42 396.30,711.42 398.05,711.42 399.80,711.42 401.55,711.42 403.30,711.42 405.05,711.42 406.80,711.42 408.55,711.42 410.30,711.42 412.05,711.41 413.80,711.41 415.55,711.41 417.30,711.41 419.05,711.40 420.80,711.39 422.55,711.39 424.30,711.38 426.05,711.36 427.80,711.35 429.55,711.33 431.30,711.30 433.05,711.27 434.80,711.23 436.55,711.18 438.30,711.11 440.05,711.02 441.80,710.92 443.55,710.78 445.30,710.61 447.05,710.39 448.80,710.11 450.55,709.76 452.30,709.33 454.05,708.78 455.80,708.10 457.55,707.27 459.30,706.25 461.05,705.00 462.80,703.51 464.55,701.75 466.30,699.69 468.05,697.35 469.80,694.72 471.55,691.86 473.30,688.82 475.05,685.68 476.80,682.52 478.55,679.44 480.30,676.52 482.05,673.82 483.80,671.39 485.55,669.26 487.30,667.41 489.05,665.84 490.80,664.53 492.55,663.45 494.30,662.56 496.05,661.84 497.80,661.26 499.55,660.80 501.30,660.43 503.05,660.13 504.80,659.90 506.55,659.71 508.30,659.57 510.05,659.45 511.80,659.36 513.55,659.29 515.30,659.23" stroke-width="1.6" stroke-linejoin="round"/>
<polyline points="375.30,709.70 377.05,709.70 378.80,709.70 380.55,709.70 382.30,709.70 384.05,709.70 385.80,709.70 387.55,709.70 389.30,709.70 391.05,709.70 392.80,709.70 394.55,709.70 396.30,709.70 398.05,709.70 399.80,709.70 401.55,709.70 403.30,709.70 405.05,709.70 406.80,709.69 408.55,709.69 410.30,709.69 412.05,709.68 413.80,709.67 415.55,709.67 417.30,709.65 419.05,709.64 420.80,709.62 422.55,709.60 424.30,709.57 426.05,709.54 427.80,709.49 429.55,709.43 431.30,709.36 433.05,709.26 434.80,709.14 436.55,708.99 438.30,708.80 440.05,708.56 441.80,708.25 443.55,707.87 445.30,707.39 447.05,706.79 448.80,706.05 450.55,705.15 452.30,704.04 454.05,702.70 455.80,701.11 457.55,699.25 459.30,697.10 461.05,694.67 462.80,692.00 464.55,689.12 466.30,686.11 468.05,683.05 469.80,680.03 471.55,677.13 473.30,674.42 475.05,671.96 476.80,669.77 478.55,667.87 480.30,666.24 482.05,664.87 483.80,663.73 485.55,662.79 487.30,662.03 489.05,661.42 490.80,660.92 492.55,660.53 494.30,660.21 496.05,659.96 497.80,659.76 499.55,659.61 501.30,659.48 503.05,659.38 504.80,659.31 506.55,659.25 508.30,659.20 510.05,659.16 511.80,659.13 513.55,659.11 515.30,659.09" stroke-width="1.6" stroke-linejoin="round"/>
<polyline points="375.30,705.41 377.05,705.41 378.80,705.41 380.55,705.41 382.30,705.41 384.05,705.41 385.80,705.40 387.55,705.40 389.30,705.40 391.05,705.40 392.80,705.40 394.55,705.39 396.30,705.39 398.05,705.38 399.80,705.38 401.55,705.37 403.30,705.36 405.05,705.35 406.80,705.33 408.55,705.31 410.30,705.29 412.05,705.26 413.80,705.22 415.55,705.18 417.30,705.12 419.05,705.05 420.80,704.96 422.55,704.85 424.30,704.71 426.05,704.54 427.80,704.33 429.55,704.07 431.30,703.75 433.05,703.35 434.80,702.87 436.55,702.29 438.30,701.57 440.05,700.72 441.80,699.70 443.55,698.49 445.30,697.08 447.05,695.46 448.80,693.62 450.55,691.57 452.30,689.32 454.05,686.92 455.80,684.41 457.55,681.85 459.30,679.30 461.05,676.81 462.80,674.45 464.55,672.26 466.30,670.27 468.05,668.49 469.80,666.93 471.55,665.58 473.30,664.43 475.05,663.46 476.80,662.64 478.55,661.97 480.30,661.41 482.05,660.96 483.80,660.59 485.55,660.28 487.30,660.04 489.05,659.84 490.80,659.68 492.55,659.55 494.30,659.45 496.05,659.36 497.80,659.30 499.55,659.24 501.30,659.20 503.05,659.16 504.80,659.14 506.55,659.11 508.30,659.10 510.05,659.08 511.80,659.07 513.55,659.06 515.30,659.05" stroke-width="1.6" stroke-linejoin="round"/>
<polyline points="375.30,700.25 377.05,700.25 378.80,700.24 380.55,700.24 382.30,700.24 384.05,700.23 385.80,700.23 387.55,700.22 389.30,700.21 391.05,700.20 392.80,700.19 394.55,700.17 396.30,700.15 398.05,700.12 399.80,700.09 401.55,700.05 403.30,700.00 405.05,699.93 406.80,699.85 408.55,699.76 410.30,699.63 412.05,699.48 413.80,699.30 415.55,699.06 417.30,698.78 419.05,698.43 420.80,698.00 422.55,697.48 424.30,696.85 426.05,696.09 427.80,695.18 429.55,694.11 431.30,692.85 433.05,691.41 434.80,689.78 436.55,687.95 438.30,685.96 440.05,683.82 441.80,681.59 443.55,679.31 445.30,677.04 447.05,674.83 448.80,672.74 450.55,670.79 452.30,669.02 454.05,667.44 455.80,666.05 457.55,664.85 459.30,663.83 461.05,662.96 462.80,662.24 464.55,661.64 466.30,661.15 468.05,660.74 469.80,660.41 471.55,660.14 473.30,659.93 475.05,659.75 476.80,659.61 478.55,659.49 480.30,659.40 482.05,659.33 483.80,659.27 485.55,659.22 487.30,659.18 489.05,659.15 490.80,659.12 492.55,659.10 494.30,659.09 496.05,659.08 497.80,659.07 499.55,659.06 501.30,659.05 503.05,659.05 504.80,659.04 506.55,659.04 508.30,659.03 510.05,659.03 511.80,659.03 513.55,659.03 515.30,659.03" stroke-width="1.6" stroke-linejoin="round"/>
<polyline points="375.30,696.38 377.05,696.38 378.80,696.38 380.55,696.38 382.30,696.37 384.05,696.37 385.80,696.36 387.55,696.35 389.30,696.34 391.05,696.33 392.80,696.31 394.55,696.29 396.30,696.26 398.05,696.23 399.80,696.18 401.55,696.12 403.30,696.05 405.05,695.96 406.80,695.85 408.55,695.70 410.30,695.52 412.05,695.28 413.80,694.99 415.55,694.63 417.30,694.17 419.05,693.61 420.80,692.92 422.55,692.08 424.30,691.07 426.05,689.87 427.80,688.47 429.55,686.85 431.30,685.04 433.05,683.04 434.80,680.90 436.55,678.67 438.30,676.42 440.05,674.20 441.80,672.08 443.55,670.11 445.30,668.32 447.05,666.73 448.80,665.36 450.55,664.19 452.30,663.20 454.05,662.39 455.80,661.72 457.55,661.17 459.30,660.73 461.05,660.38 462.80,660.10 464.55,659.87 466.30,659.69 468.05,659.55 469.80,659.44 471.55,659.35 473.30,659.28 475.05,659.23 476.80,659.18 478.55,659.15 480.30,659.12 482.05,659.10 483.80,659.08 485.55,659.07 487.30,659.06 489.05,659.05 490.80,659.05 492.55,659.04 494.30,659.04 496.05,659.04 497.80,659.03 499.55,659.03 501.30,659.03 503.05,659.03 504.80,659.03 506.55,659.03 508.30,659.03 510.05,659.03 511.80,659.03 513.55,659.02 515.30,659.02" stroke-width="1.6" stroke-linejoin="round"/>
<polyline points="375.30,711.42 377.05,711.42 378.80,711.41 380.55,711.41 382.30,711.41 384.05,711.40 385.80,711.40 387.55,711.39 389.30,711.38 391.05,711.36 392.80,711.34 394.55,711.32 396.30,711.29 398.05,711.25 399.80,711.20 401.55,711.13 403.30,711.05 405.05,710.93 406.80,710.79 408.55,710.60 410.30,710.36 412.05,710.04 413.80,709.64 415.55,709.12 417.30,708.45 419.05,707.61 420.80,706.53 422.55,705.18 424.30,703.48 426.05,701.39 427.80,698.85 429.55,695.79 431.30,692.20 433.05,688.06 434.80,683.43 436.55,678.39 438.30,673.07 440.05,667.65 441.80,662.31 443.55,657.22 445.30,652.52 447.05,648.31 448.80,644.64 450.55,641.51 452.30,638.89 454.05,636.74 455.80,635.00 457.55,633.60 459.30,632.49 461.05,631.61 462.80,630.92 464.55,630.38 466.30,629.96 468.05,629.64 469.80,629.38 471.55,629.19 473.30,629.04 475.05,628.92 476.80,628.83 478.55,628.76 480.30,628.71 482.05,628.67 483.80,628.64 485.55,628.61 487.30,628.59 489.05,628.58 490.80,628.57 492.55,628.56 494.30,628.55 496.05,628.55 497.80,628.54 499.55,628.54 501.30,628.54 503.05,628.54 504.80,628.53 506.55,628.53 508.30,628.53 510.05,628.53 511.80,628.53 513.55,628.53 515.30,628.53" stroke-width="1.6" stroke-linejoin="round"/>
<circle cx="69.60" cy="67.89" r="3.13" fill="#fff" stroke="#000" stroke-width="1.40"/>
<circle cx="95.90" cy="70.08" r="3.13" fill="#fff" stroke="#000" stroke-width="1.40"/>
<circle cx="122.20" cy="66.89" r="3.13" fill="#fff" stroke="#000" stroke-width="1.40"/>
<path d="M69.60,72.73L73.27,76.40L69.60,80.07L65.93,76.40Z" fill="#fff" stroke="#000" stroke-width="1.1"/>
<path d="M95.90,71.73L99.57,75.40L95.90,79.07L92.23,75.40Z" fill="#fff" stroke="#000" stroke-width="1.1"/>
<path d="M122.20,67.91L125.87,71.58L122.20,75.26L118.53,71.58Z" fill="#fff" stroke="#000" stroke-width="1.1"/>
<path d="M148.50,64.47L152.17,68.14L148.50,71.82L144.83,68.14Z" fill="#fff" stroke="#000" stroke-width="1.1"/>
<path d="M174.80,61.97L178.47,65.64L174.80,69.31L171.13,65.64Z" fill="#fff" stroke="#000" stroke-width="1.1"/>
<path d="M201.10,61.35L204.77,65.02L201.10,68.69L197.43,65.02Z" fill="#fff" stroke="#000" stroke-width="1.1"/>
<path d="M227.40,61.35L231.07,65.02L227.40,68.69L223.73,65.02Z" fill="#fff" stroke="#000" stroke-width="1.1"/>
<circle cx="69.60" cy="81.71" r="3.24" fill="#000" stroke="none"/>
<circle cx="95.90" cy="80.09" r="3.24" fill="#000" stroke="none"/>
<circle cx="122.20" cy="74.77" r="3.24" fill="#000" stroke="none"/>
<circle cx="148.50" cy="70.02" r="3.24" fill="#000" stroke="none"/>
<circle cx="174.80" cy="66.27" r="3.24" fill="#000" stroke="none"/>
<circle cx="201.10" cy="65.02" r="3.24" fill="#000" stroke="none"/>
<circle cx="227.40" cy="65.02" r="3.24" fill="#000" stroke="none"/>
<path d="M69.60,99.84L73.49,103.73L69.60,107.61L65.71,103.73Z" fill="#000" stroke="none"/>
<path d="M95.90,94.27L99.79,98.16L95.90,102.05L92.01,98.16Z" fill="#000" stroke="none"/>
<line x1="122.20" y1="92.53" x2="122.20" y2="88.47" stroke-width="1.2"/>
<line x1="118.60" y1="88.47" x2="125.80" y2="88.47" stroke-width="1.2"/>
<path d="M122.20,88.64L126.09,92.53L122.20,96.42L118.31,92.53Z" fill="#000" stroke="none"/>
<path d="M148.50,73.01L152.39,76.90L148.50,80.79L144.61,76.90Z" fill="#000" stroke="none"/>
<path d="M174.80,63.01L178.69,66.89L174.80,70.78L170.91,66.89Z" fill="#000" stroke="none"/>
<path d="M201.10,61.13L204.99,65.02L201.10,68.91L197.21,65.02Z" fill="#000" stroke="none"/>
<path d="M227.40,61.75L231.29,65.64L227.40,69.53L223.51,65.64Z" fill="#000" stroke="none"/>
<path d="M69.60,119.24L73.16,112.98L66.04,112.98Z" fill="#000" stroke="none"/>
<path d="M95.90,117.74L99.46,111.47L92.34,111.47Z" fill="#000" stroke="none"/>
<path d="M122.20,108.67L125.76,102.41L118.64,102.41Z" fill="#000" stroke="none"/>
<path d="M148.50,85.35L152.06,79.08L144.94,79.08Z" fill="#000" stroke="none"/>
<path d="M174.80,70.96L178.36,64.70L171.24,64.70Z" fill="#000" stroke="none"/>
<path d="M201.10,68.46L204.66,62.20L197.54,62.20Z" fill="#000" stroke="none"/>
<path d="M227.40,69.71L230.96,63.45L223.84,63.45Z" fill="#000" stroke="none"/>
<circle cx="69.60" cy="126.30" r="3.56" fill="#000" stroke="none"/>
<circle cx="95.90" cy="125.30" r="3.56" fill="#000" stroke="none"/>
<circle cx="122.20" cy="120.80" r="3.56" fill="#000" stroke="none"/>
<line x1="148.50" y1="96.10" x2="148.50" y2="90.47" stroke-width="1.2"/>
<line x1="144.90" y1="90.47" x2="152.10" y2="90.47" stroke-width="1.2"/>
<circle cx="148.50" cy="96.10" r="3.56" fill="#000" stroke="none"/>
<circle cx="174.80" cy="68.77" r="3.56" fill="#000" stroke="none"/>
<circle cx="201.10" cy="65.02" r="3.56" fill="#000" stroke="none"/>
<circle cx="227.40" cy="64.70" r="3.56" fill="#000" stroke="none"/>
<circle cx="174.80" cy="62.83" r="3.13" fill="#fff" stroke="#000" stroke-width="1.40"/>
<circle cx="148.50" cy="65.14" r="3.13" fill="#fff" stroke="#000" stroke-width="1.40"/>
<circle cx="72.30" cy="262.08" r="3.24" fill="#000" stroke="none"/>
<circle cx="98.48" cy="262.93" r="3.24" fill="#000" stroke="none"/>
<circle cx="124.67" cy="262.02" r="3.24" fill="#000" stroke="none"/>
<circle cx="150.85" cy="260.64" r="3.24" fill="#000" stroke="none"/>
<circle cx="177.03" cy="261.30" r="3.24" fill="#000" stroke="none"/>
<circle cx="203.22" cy="260.64" r="3.24" fill="#000" stroke="none"/>
<circle cx="229.40" cy="260.64" r="3.24" fill="#000" stroke="none"/>
<path d="M72.30,264.28L76.19,268.17L72.30,272.06L68.41,268.17Z" fill="#000" stroke="none"/>
<path d="M98.48,264.61L102.37,268.50L98.48,272.39L94.60,268.50Z" fill="#000" stroke="none"/>
<path d="M124.67,261.53L128.55,265.42L124.67,269.31L120.78,265.42Z" fill="#000" stroke="none"/>
<path d="M150.85,258.06L154.74,261.95L150.85,265.84L146.96,261.95Z" fill="#000" stroke="none"/>
<path d="M177.03,257.41L180.92,261.30L177.03,265.19L173.15,261.30Z" fill="#000" stroke="none"/>
<path d="M203.22,256.75L207.10,260.64L203.22,264.53L199.33,260.64Z" fill="#000" stroke="none"/>
<path d="M229.40,256.75L233.29,260.64L229.40,264.53L225.51,260.64Z" fill="#000" stroke="none"/>
<path d="M72.30,282.94L75.86,276.68L68.74,276.68Z" fill="#000" stroke="none"/>
<path d="M98.48,279.93L102.05,273.67L94.92,273.67Z" fill="#000" stroke="none"/>
<path d="M124.67,274.43L128.23,268.17L121.10,268.17Z" fill="#000" stroke="none"/>
<path d="M150.85,267.36L154.41,261.10L147.29,261.10Z" fill="#000" stroke="none"/>
<path d="M177.03,264.74L180.60,258.48L173.47,258.48Z" fill="#000" stroke="none"/>
<path d="M203.22,264.09L206.78,257.82L199.65,257.82Z" fill="#000" stroke="none"/>
<path d="M229.40,264.09L232.96,257.82L225.84,257.82Z" fill="#000" stroke="none"/>
<path d="M72.30,297.26L75.86,303.53L68.74,303.53Z" fill="#000" stroke="none"/>
<line x1="98.48" y1="295.73" x2="98.48" y2="291.15" stroke-width="1.2"/>
<line x1="94.88" y1="291.15" x2="102.08" y2="291.15" stroke-width="1.2"/>
<path d="M98.48,292.29L102.05,298.55L94.92,298.55Z" fill="#000" stroke="none"/>
<path d="M124.67,285.87L128.23,292.14L121.10,292.14Z" fill="#000" stroke="none"/>
<path d="M150.85,264.27L154.41,270.53L147.29,270.53Z" fill="#000" stroke="none"/>
<path d="M177.03,257.85L180.60,264.12L173.47,264.12Z" fill="#000" stroke="none"/>
<path d="M203.22,257.20L206.78,263.46L199.65,263.46Z" fill="#000" stroke="none"/>
<path d="M229.40,257.20L232.96,263.46L225.84,263.46Z" fill="#000" stroke="none"/>
<rect x="68.84" y="313.82" width="6.91" height="6.91" fill="#000" stroke="none"/>
<rect x="95.03" y="312.64" width="6.91" height="6.91" fill="#000" stroke="none"/>
<line x1="124.67" y1="313.47" x2="124.67" y2="309.28" stroke-width="1.2"/>
<line x1="121.07" y1="309.28" x2="128.27" y2="309.28" stroke-width="1.2"/>
<rect x="121.21" y="310.02" width="6.91" height="6.91" fill="#000" stroke="none"/>
<rect x="147.39" y="281.67" width="6.91" height="6.91" fill="#000" stroke="none"/>
<line x1="177.03" y1="261.95" x2="177.03" y2="259.33" stroke-width="1.2"/>
<line x1="173.43" y1="259.33" x2="180.63" y2="259.33" stroke-width="1.2"/>
<rect x="173.58" y="258.50" width="6.91" height="6.91" fill="#000" stroke="none"/>
<rect x="199.76" y="257.45" width="6.91" height="6.91" fill="#000" stroke="none"/>
<rect x="225.94" y="257.45" width="6.91" height="6.91" fill="#000" stroke="none"/>
<circle cx="72.30" cy="325.19" r="3.56" fill="#000" stroke="none"/>
<circle cx="98.48" cy="325.91" r="3.56" fill="#000" stroke="none"/>
<circle cx="124.67" cy="322.90" r="3.56" fill="#000" stroke="none"/>
<line x1="150.85" y1="297.24" x2="150.85" y2="293.31" stroke-width="1.2"/>
<line x1="147.25" y1="293.31" x2="154.45" y2="293.31" stroke-width="1.2"/>
<circle cx="150.85" cy="297.24" r="3.56" fill="#000" stroke="none"/>
<circle cx="177.03" cy="261.95" r="3.56" fill="#000" stroke="none"/>
<circle cx="203.22" cy="260.64" r="3.56" fill="#000" stroke="none"/>
<circle cx="229.40" cy="260.64" r="3.56" fill="#000" stroke="none"/>
<rect x="199.76" y="257.45" width="6.91" height="6.91" fill="#000" stroke="none"/>
<rect x="225.94" y="257.45" width="6.91" height="6.91" fill="#000" stroke="none"/>
<line x1="177.03" y1="260.32" x2="177.03" y2="257.04" stroke-width="1.2"/>
<line x1="173.43" y1="257.04" x2="180.63" y2="257.04" stroke-width="1.2"/>
<path d="M177.03,263.76L180.60,257.50L173.47,257.50Z" fill="#000" stroke="none"/>
<circle cx="72.30" cy="453.19" r="3.24" fill="#000" stroke="none"/>
<circle cx="98.48" cy="454.27" r="3.24" fill="#000" stroke="none"/>
<circle cx="124.67" cy="453.82" r="3.24" fill="#000" stroke="none"/>
<circle cx="150.85" cy="454.90" r="3.24" fill="#000" stroke="none"/>
<circle cx="177.03" cy="455.53" r="3.24" fill="#000" stroke="none"/>
<circle cx="203.22" cy="454.90" r="3.24" fill="#000" stroke="none"/>
<circle cx="229.40" cy="453.32" r="3.24" fill="#000" stroke="none"/>
<path d="M72.30,453.61L76.19,457.50L72.30,461.38L68.41,457.50Z" fill="#000" stroke="none"/>
<path d="M98.48,453.55L102.37,457.43L98.48,461.32L94.60,457.43Z" fill="#000" stroke="none"/>
<path d="M124.67,452.91L128.55,456.80L124.67,460.69L120.78,456.80Z" fill="#000" stroke="none"/>
<path d="M150.85,452.91L154.74,456.80L150.85,460.69L146.96,456.80Z" fill="#000" stroke="none"/>
<path d="M177.03,452.28L180.92,456.17L177.03,460.05L173.15,456.17Z" fill="#000" stroke="none"/>
<path d="M203.22,451.01L207.10,454.90L203.22,458.79L199.33,454.90Z" fill="#000" stroke="none"/>
<path d="M229.40,449.75L233.29,453.63L229.40,457.52L225.51,453.63Z" fill="#000" stroke="none"/>
<path d="M72.30,477.47L75.86,471.21L68.74,471.21Z" fill="#000" stroke="none"/>
<line x1="98.48" y1="476.31" x2="98.48" y2="470.29" stroke-width="1.2"/>
<line x1="94.88" y1="470.29" x2="102.08" y2="470.29" stroke-width="1.2"/>
<path d="M98.48,479.75L102.05,473.49L94.92,473.49Z" fill="#000" stroke="none"/>
<line x1="124.67" y1="466.93" x2="124.67" y2="463.13" stroke-width="1.2"/>
<line x1="121.07" y1="463.13" x2="128.27" y2="463.13" stroke-width="1.2"/>
<path d="M124.67,470.38L128.23,464.11L121.10,464.11Z" fill="#000" stroke="none"/>
<path d="M150.85,462.34L154.41,456.07L147.29,456.07Z" fill="#000" stroke="none"/>
<path d="M177.03,459.61L180.60,453.35L173.47,453.35Z" fill="#000" stroke="none"/>
<path d="M203.22,458.35L206.78,452.08L199.65,452.08Z" fill="#000" stroke="none"/>
<path d="M229.40,457.08L232.96,450.81L225.84,450.81Z" fill="#000" stroke="none"/>
<line x1="72.30" y1="496.70" x2="72.30" y2="491.95" stroke-width="1.2"/>
<line x1="68.70" y1="491.95" x2="75.90" y2="491.95" stroke-width="1.2"/>
<circle cx="72.30" cy="496.70" r="2.59" fill="#c4c4c4" stroke="#000" stroke-width="1.62"/>
<line x1="98.48" y1="497.90" x2="98.48" y2="492.20" stroke-width="1.2"/>
<line x1="94.88" y1="492.20" x2="102.08" y2="492.20" stroke-width="1.2"/>
<circle cx="98.48" cy="497.90" r="2.59" fill="#c4c4c4" stroke="#000" stroke-width="1.62"/>
<line x1="124.67" y1="491.38" x2="124.67" y2="484.60" stroke-width="1.2"/>
<line x1="121.07" y1="484.60" x2="128.27" y2="484.60" stroke-width="1.2"/>
<circle cx="124.67" cy="491.38" r="2.59" fill="#c4c4c4" stroke="#000" stroke-width="1.62"/>
<line x1="150.85" y1="475.17" x2="150.85" y2="470.10" stroke-width="1.2"/>
<line x1="147.25" y1="470.10" x2="154.45" y2="470.10" stroke-width="1.2"/>
<circle cx="150.85" cy="475.17" r="2.59" fill="#c4c4c4" stroke="#000" stroke-width="1.62"/>
<circle cx="177.03" cy="456.80" r="2.59" fill="#c4c4c4" stroke="#000" stroke-width="1.62"/>
<circle cx="203.22" cy="454.90" r="2.59" fill="#c4c4c4" stroke="#000" stroke-width="1.62"/>
<circle cx="229.40" cy="453.63" r="2.59" fill="#c4c4c4" stroke="#000" stroke-width="1.62"/>
<circle cx="72.30" cy="514.12" r="3.56" fill="#000" stroke="none"/>
<circle cx="98.48" cy="516.40" r="3.56" fill="#000" stroke="none"/>
<circle cx="124.67" cy="512.91" r="3.56" fill="#000" stroke="none"/>
<circle cx="150.85" cy="491.89" r="3.56" fill="#000" stroke="none"/>
<circle cx="177.03" cy="456.80" r="3.56" fill="#000" stroke="none"/>
<circle cx="203.22" cy="454.90" r="3.56" fill="#000" stroke="none"/>
<circle cx="229.40" cy="453.32" r="3.56" fill="#000" stroke="none"/>
<circle cx="98.48" cy="453.82" r="3.13" fill="#fff" stroke="#000" stroke-width="1.40"/>
<circle cx="150.85" cy="454.58" r="3.13" fill="#fff" stroke="#000" stroke-width="1.40"/>
<circle cx="72.30" cy="650.57" r="3.13" fill="#fff" stroke="#000" stroke-width="1.40"/>
<circle cx="124.67" cy="650.82" r="3.13" fill="#fff" stroke="#000" stroke-width="1.40"/>
<circle cx="177.03" cy="648.97" r="3.13" fill="#fff" stroke="#000" stroke-width="1.40"/>
<circle cx="203.22" cy="650.82" r="3.13" fill="#fff" stroke="#000" stroke-width="1.40"/>
<circle cx="229.40" cy="650.20" r="3.13" fill="#fff" stroke="#000" stroke-width="1.40"/>
<circle cx="98.48" cy="651.31" r="3.24" fill="#000" stroke="none"/>
<circle cx="124.67" cy="652.05" r="3.24" fill="#000" stroke="none"/>
<circle cx="150.85" cy="652.05" r="3.24" fill="#000" stroke="none"/>
<circle cx="177.03" cy="651.43" r="3.24" fill="#000" stroke="none"/>
<circle cx="203.22" cy="651.43" r="3.24" fill="#000" stroke="none"/>
<circle cx="229.40" cy="650.32" r="3.24" fill="#000" stroke="none"/>
<path d="M72.30,658.82L76.19,662.70L72.30,666.59L68.41,662.70Z" fill="#000" stroke="none"/>
<path d="M98.48,656.54L102.37,660.43L98.48,664.31L94.60,660.43Z" fill="#000" stroke="none"/>
<path d="M124.67,653.70L128.55,657.59L124.67,661.48L120.78,657.59Z" fill="#000" stroke="none"/>
<path d="M150.85,648.78L154.74,652.66L150.85,656.55L146.96,652.66Z" fill="#000" stroke="none"/>
<path d="M177.03,646.93L180.92,650.82L177.03,654.70L173.15,650.82Z" fill="#000" stroke="none"/>
<path d="M203.22,647.54L207.10,651.43L203.22,655.32L199.33,651.43Z" fill="#000" stroke="none"/>
<path d="M229.40,646.44L233.29,650.32L229.40,654.21L225.51,650.32Z" fill="#000" stroke="none"/>
<path d="M72.30,686.54L75.86,680.28L68.74,680.28Z" fill="#000" stroke="none"/>
<line x1="98.48" y1="682.42" x2="98.48" y2="678.10" stroke-width="1.2"/>
<line x1="94.88" y1="678.10" x2="102.08" y2="678.10" stroke-width="1.2"/>
<path d="M98.48,685.86L102.05,679.60L94.92,679.60Z" fill="#000" stroke="none"/>
<path d="M124.67,671.45L128.23,665.18L121.10,665.18Z" fill="#000" stroke="none"/>
<path d="M150.85,659.81L154.41,653.54L147.29,653.54Z" fill="#000" stroke="none"/>
<path d="M177.03,654.88L180.60,648.61L173.47,648.61Z" fill="#000" stroke="none"/>
<path d="M203.22,654.88L206.78,648.61L199.65,648.61Z" fill="#000" stroke="none"/>
<path d="M229.40,653.77L232.96,647.50L225.84,647.50Z" fill="#000" stroke="none"/>
<circle cx="72.30" cy="705.39" r="2.59" fill="#c4c4c4" stroke="#000" stroke-width="1.62"/>
<circle cx="98.48" cy="709.95" r="2.59" fill="#c4c4c4" stroke="#000" stroke-width="1.62"/>
<line x1="124.67" y1="705.82" x2="124.67" y2="703.36" stroke-width="1.2"/>
<line x1="121.07" y1="703.36" x2="128.27" y2="703.36" stroke-width="1.2"/>
<circle cx="124.67" cy="705.82" r="2.59" fill="#c4c4c4" stroke="#000" stroke-width="1.62"/>
<line x1="150.85" y1="673.98" x2="150.85" y2="671.51" stroke-width="1.2"/>
<line x1="147.25" y1="671.51" x2="154.45" y2="671.51" stroke-width="1.2"/>
<circle cx="150.85" cy="673.98" r="2.59" fill="#c4c4c4" stroke="#000" stroke-width="1.62"/>
<circle cx="177.03" cy="653.59" r="2.59" fill="#c4c4c4" stroke="#000" stroke-width="1.62"/>
<circle cx="203.22" cy="651.43" r="2.59" fill="#c4c4c4" stroke="#000" stroke-width="1.62"/>
<circle cx="229.40" cy="650.32" r="2.59" fill="#c4c4c4" stroke="#000" stroke-width="1.62"/>
<circle cx="72.30" cy="711.12" r="3.56" fill="#000" stroke="none"/>
<circle cx="98.48" cy="710.32" r="3.56" fill="#000" stroke="none"/>
<circle cx="124.67" cy="708.10" r="3.56" fill="#000" stroke="none"/>
<circle cx="150.85" cy="681.62" r="3.56" fill="#000" stroke="none"/>
<circle cx="177.03" cy="657.41" r="3.56" fill="#000" stroke="none"/>
<circle cx="203.22" cy="651.31" r="3.56" fill="#000" stroke="none"/>
<circle cx="229.40" cy="650.32" r="3.56" fill="#000" stroke="none"/>
<rect x="372.02" y="129.57" width="7.17" height="7.17" fill="#000" stroke="none"/>
<rect x="391.98" y="129.57" width="7.17" height="7.17" fill="#000" stroke="none"/>
<rect x="411.94" y="129.57" width="7.17" height="7.17" fill="#000" stroke="none"/>
<rect x="471.83" y="106.69" width="7.17" height="7.17" fill="#000" stroke="none"/>
<line x1="495.38" y1="80.62" x2="495.38" y2="77.19" stroke-width="1.2"/>
<line x1="491.77" y1="77.19" x2="498.98" y2="77.19" stroke-width="1.2"/>
<rect x="491.79" y="77.04" width="7.17" height="7.17" fill="#000" stroke="none"/>
<rect x="511.75" y="66.50" width="7.17" height="7.17" fill="#000" stroke="none"/>
<path d="M375.60,129.58L379.30,136.08L371.90,136.08Z" fill="#000" stroke="none"/>
<path d="M395.56,129.58L399.26,136.08L391.87,136.08Z" fill="#000" stroke="none"/>
<path d="M415.52,129.58L419.22,136.08L411.83,136.08Z" fill="#000" stroke="none"/>
<path d="M455.45,130.53L459.15,137.02L451.75,137.02Z" fill="#000" stroke="none"/>
<line x1="475.41" y1="102.39" x2="475.41" y2="96.05" stroke-width="1.2"/>
<line x1="471.81" y1="96.05" x2="479.01" y2="96.05" stroke-width="1.2"/>
<path d="M475.41,98.82L479.11,105.31L471.72,105.31Z" fill="#000" stroke="none"/>
<path d="M495.38,62.74L499.07,69.23L491.68,69.23Z" fill="#000" stroke="none"/>
<circle cx="375.60" cy="129.73" r="3.36" fill="#000" stroke="none"/>
<circle cx="395.56" cy="129.73" r="3.36" fill="#000" stroke="none"/>
<circle cx="415.52" cy="128.87" r="3.36" fill="#000" stroke="none"/>
<circle cx="455.45" cy="83.45" r="3.36" fill="#000" stroke="none"/>
<circle cx="475.41" cy="66.31" r="3.36" fill="#000" stroke="none"/>
<circle cx="495.38" cy="62.03" r="3.36" fill="#000" stroke="none"/>
<circle cx="515.34" cy="56.28" r="3.36" fill="#000" stroke="none"/>
<path d="M375.60,132.44L379.30,125.95L371.90,125.95Z" fill="#000" stroke="none"/>
<path d="M395.56,132.44L399.26,125.95L391.87,125.95Z" fill="#000" stroke="none"/>
<path d="M415.52,131.59L419.22,125.09L411.83,125.09Z" fill="#000" stroke="none"/>
<line x1="435.49" y1="129.39" x2="435.49" y2="125.96" stroke-width="1.2"/>
<line x1="431.89" y1="125.96" x2="439.09" y2="125.96" stroke-width="1.2"/>
<path d="M435.49,132.96L439.18,126.46L431.79,126.46Z" fill="#000" stroke="none"/>
<path d="M455.45,105.96L459.15,99.47L451.75,99.47Z" fill="#000" stroke="none"/>
<path d="M475.41,74.17L479.11,67.67L471.72,67.67Z" fill="#000" stroke="none"/>
<path d="M495.38,69.88L499.07,63.39L491.68,63.39Z" fill="#000" stroke="none"/>
<path d="M515.34,67.31L519.03,60.82L511.64,60.82Z" fill="#000" stroke="none"/>
<path d="M375.60,119.70L379.63,123.73L375.60,127.76L371.57,123.73Z" fill="#000" stroke="none"/>
<path d="M395.56,119.70L399.59,123.73L395.56,127.76L391.53,123.73Z" fill="#000" stroke="none"/>
<path d="M415.52,119.70L419.56,123.73L415.52,127.76L411.49,123.73Z" fill="#000" stroke="none"/>
<path d="M435.49,112.67L439.52,116.70L435.49,120.73L431.46,116.70Z" fill="#000" stroke="none"/>
<path d="M455.45,78.73L459.48,82.76L455.45,86.80L451.42,82.76Z" fill="#000" stroke="none"/>
<path d="M475.41,60.56L479.44,64.60L475.41,68.63L471.38,64.60Z" fill="#000" stroke="none"/>
<path d="M495.38,58.85L499.41,62.88L495.38,66.91L491.34,62.88Z" fill="#000" stroke="none"/>
<path d="M515.34,59.71L519.37,63.74L515.34,67.77L511.31,63.74Z" fill="#000" stroke="none"/>
<line x1="375.60" y1="118.84" x2="375.60" y2="114.56" stroke-width="1.2"/>
<line x1="372.00" y1="114.56" x2="379.20" y2="114.56" stroke-width="1.2"/>
<circle cx="375.60" cy="118.84" r="3.25" fill="#fff" stroke="#000" stroke-width="1.46"/>
<circle cx="395.56" cy="116.70" r="3.25" fill="#fff" stroke="#000" stroke-width="1.46"/>
<circle cx="415.52" cy="122.87" r="3.25" fill="#fff" stroke="#000" stroke-width="1.46"/>
<circle cx="435.49" cy="111.90" r="3.25" fill="#fff" stroke="#000" stroke-width="1.46"/>
<circle cx="455.45" cy="76.94" r="3.25" fill="#fff" stroke="#000" stroke-width="1.46"/>
<circle cx="475.41" cy="60.91" r="3.25" fill="#fff" stroke="#000" stroke-width="1.46"/>
<line x1="495.38" y1="61.34" x2="495.38" y2="58.77" stroke-width="1.2"/>
<line x1="491.77" y1="58.77" x2="498.98" y2="58.77" stroke-width="1.2"/>
<circle cx="495.38" cy="61.34" r="3.25" fill="#fff" stroke="#000" stroke-width="1.46"/>
<circle cx="375.60" cy="125.44" r="3.70" fill="#000" stroke="none"/>
<circle cx="395.56" cy="125.44" r="3.70" fill="#000" stroke="none"/>
<circle cx="415.52" cy="125.01" r="3.70" fill="#000" stroke="none"/>
<line x1="435.49" y1="100.25" x2="435.49" y2="91.68" stroke-width="1.2"/>
<line x1="431.89" y1="91.68" x2="439.09" y2="91.68" stroke-width="1.2"/>
<circle cx="435.49" cy="100.25" r="3.70" fill="#000" stroke="none"/>
<line x1="455.45" y1="61.17" x2="455.45" y2="46.60" stroke-width="1.2"/>
<line x1="451.85" y1="46.60" x2="459.05" y2="46.60" stroke-width="1.2"/>
<circle cx="455.45" cy="61.17" r="3.70" fill="#000" stroke="none"/>
<circle cx="475.41" cy="42.74" r="3.70" fill="#000" stroke="none"/>
<circle cx="495.38" cy="41.80" r="3.70" fill="#000" stroke="none"/>
<circle cx="515.34" cy="40.86" r="3.70" fill="#000" stroke="none"/>
<path d="M515.34,62.74L519.03,69.23L511.64,69.23Z" fill="#000" stroke="none"/>
<rect x="511.75" y="66.50" width="7.17" height="7.17" fill="#000" stroke="none"/>
<rect x="371.72" y="316.64" width="7.17" height="7.17" fill="#000" stroke="none"/>
<rect x="391.72" y="316.64" width="7.17" height="7.17" fill="#000" stroke="none"/>
<rect x="411.72" y="317.84" width="7.17" height="7.17" fill="#000" stroke="none"/>
<rect x="431.72" y="319.13" width="7.17" height="7.17" fill="#000" stroke="none"/>
<rect x="451.72" y="313.99" width="7.17" height="7.17" fill="#000" stroke="none"/>
<rect x="471.72" y="292.13" width="7.17" height="7.17" fill="#000" stroke="none"/>
<rect x="491.72" y="269.00" width="7.17" height="7.17" fill="#000" stroke="none"/>
<rect x="511.72" y="257.43" width="7.17" height="7.17" fill="#000" stroke="none"/>
<path d="M375.30,317.17L379.00,323.67L371.60,323.67Z" fill="#000" stroke="none"/>
<path d="M395.30,317.17L399.00,323.67L391.60,323.67Z" fill="#000" stroke="none"/>
<path d="M415.30,317.17L419.00,323.67L411.60,323.67Z" fill="#000" stroke="none"/>
<line x1="435.30" y1="318.34" x2="435.30" y2="312.09" stroke-width="1.2"/>
<line x1="431.70" y1="312.09" x2="438.90" y2="312.09" stroke-width="1.2"/>
<path d="M435.30,314.77L439.00,321.27L431.60,321.27Z" fill="#000" stroke="none"/>
<line x1="455.30" y1="286.21" x2="455.30" y2="281.06" stroke-width="1.2"/>
<line x1="451.70" y1="281.06" x2="458.90" y2="281.06" stroke-width="1.2"/>
<path d="M455.30,282.63L459.00,289.13L451.60,289.13Z" fill="#000" stroke="none"/>
<path d="M475.30,265.15L479.00,271.65L471.60,271.65Z" fill="#000" stroke="none"/>
<path d="M495.30,256.32L499.00,262.82L491.60,262.82Z" fill="#000" stroke="none"/>
<path d="M515.30,255.47L519.00,261.96L511.60,261.96Z" fill="#000" stroke="none"/>
<circle cx="375.30" cy="319.03" r="3.36" fill="#000" stroke="none"/>
<circle cx="395.30" cy="319.03" r="3.36" fill="#000" stroke="none"/>
<circle cx="415.30" cy="319.03" r="3.36" fill="#000" stroke="none"/>
<path d="M375.30,315.57L379.00,309.08L371.60,309.08Z" fill="#000" stroke="none"/>
<path d="M395.30,313.77L399.00,307.28L391.60,307.28Z" fill="#000" stroke="none"/>
<path d="M415.30,311.89L419.00,305.39L411.60,305.39Z" fill="#000" stroke="none"/>
<path d="M435.30,292.61L439.00,286.11L431.60,286.11Z" fill="#000" stroke="none"/>
<path d="M455.30,268.61L459.00,262.11L451.60,262.11Z" fill="#000" stroke="none"/>
<path d="M475.30,263.47L479.00,256.97L471.60,256.97Z" fill="#000" stroke="none"/>
<path d="M495.30,261.75L499.00,255.26L491.60,255.26Z" fill="#000" stroke="none"/>
<path d="M515.30,261.75L519.00,255.26L511.60,255.26Z" fill="#000" stroke="none"/>
<path d="M375.30,303.17L379.33,307.20L375.30,311.23L371.27,307.20Z" fill="#000" stroke="none"/>
<path d="M395.30,301.29L399.33,305.32L395.30,309.35L391.27,305.32Z" fill="#000" stroke="none"/>
<path d="M415.30,294.17L419.33,298.20L415.30,302.24L411.27,298.20Z" fill="#000" stroke="none"/>
<path d="M435.30,283.29L439.33,287.32L435.30,291.35L431.27,287.32Z" fill="#000" stroke="none"/>
<path d="M455.30,259.29L459.33,263.32L455.30,267.36L451.27,263.32Z" fill="#000" stroke="none"/>
<path d="M475.30,255.01L479.33,259.04L475.30,263.07L471.27,259.04Z" fill="#000" stroke="none"/>
<path d="M495.30,254.15L499.33,258.18L495.30,262.21L491.27,258.18Z" fill="#000" stroke="none"/>
<path d="M515.30,254.15L519.33,258.18L515.30,262.21L511.27,258.18Z" fill="#000" stroke="none"/>
<circle cx="375.30" cy="305.40" r="3.25" fill="#fff" stroke="#000" stroke-width="1.46"/>
<line x1="395.30" y1="302.40" x2="395.30" y2="298.12" stroke-width="1.2"/>
<line x1="391.70" y1="298.12" x2="398.90" y2="298.12" stroke-width="1.2"/>
<circle cx="395.30" cy="302.40" r="3.25" fill="#fff" stroke="#000" stroke-width="1.46"/>
<line x1="415.30" y1="300.95" x2="415.30" y2="292.80" stroke-width="1.2"/>
<line x1="411.70" y1="292.80" x2="418.90" y2="292.80" stroke-width="1.2"/>
<circle cx="415.30" cy="300.95" r="3.25" fill="#fff" stroke="#000" stroke-width="1.46"/>
<line x1="435.30" y1="279.26" x2="435.30" y2="271.98" stroke-width="1.2"/>
<line x1="431.70" y1="271.98" x2="438.90" y2="271.98" stroke-width="1.2"/>
<circle cx="435.30" cy="279.26" r="3.25" fill="#fff" stroke="#000" stroke-width="1.46"/>
<circle cx="455.30" cy="263.58" r="3.25" fill="#fff" stroke="#000" stroke-width="1.46"/>
<circle cx="475.30" cy="259.90" r="3.25" fill="#fff" stroke="#000" stroke-width="1.46"/>
<line x1="495.30" y1="257.24" x2="495.30" y2="254.67" stroke-width="1.2"/>
<line x1="491.70" y1="254.67" x2="498.90" y2="254.67" stroke-width="1.2"/>
<circle cx="495.30" cy="257.24" r="3.25" fill="#fff" stroke="#000" stroke-width="1.46"/>
<line x1="515.30" y1="257.24" x2="515.30" y2="254.67" stroke-width="1.2"/>
<line x1="511.70" y1="254.67" x2="518.90" y2="254.67" stroke-width="1.2"/>
<circle cx="515.30" cy="257.24" r="3.25" fill="#fff" stroke="#000" stroke-width="1.46"/>
<circle cx="435.30" cy="292.80" r="3.70" fill="#000" stroke="none"/>
<circle cx="455.30" cy="245.58" r="3.70" fill="#000" stroke="none"/>
<circle cx="475.30" cy="237.87" r="3.70" fill="#000" stroke="none"/>
<circle cx="495.30" cy="236.59" r="3.70" fill="#000" stroke="none"/>
<circle cx="515.30" cy="236.59" r="3.70" fill="#000" stroke="none"/>
<path d="M415.30,293.60L419.00,300.10L411.60,300.10Z" fill="#000" stroke="none"/>
<rect x="372.22" y="507.83" width="7.17" height="7.17" fill="#000" stroke="none"/>
<rect x="392.33" y="507.74" width="7.17" height="7.17" fill="#000" stroke="none"/>
<rect x="412.44" y="506.85" width="7.17" height="7.17" fill="#000" stroke="none"/>
<rect x="432.55" y="514.44" width="7.17" height="7.17" fill="#000" stroke="none"/>
<rect x="452.67" y="511.49" width="7.17" height="7.17" fill="#000" stroke="none"/>
<rect x="472.78" y="488.99" width="7.17" height="7.17" fill="#000" stroke="none"/>
<rect x="492.89" y="466.67" width="7.17" height="7.17" fill="#000" stroke="none"/>
<rect x="513.00" y="458.45" width="7.17" height="7.17" fill="#000" stroke="none"/>
<circle cx="375.80" cy="513.11" r="3.36" fill="#000" stroke="none"/>
<circle cx="395.91" cy="510.70" r="3.36" fill="#000" stroke="none"/>
<circle cx="416.03" cy="512.22" r="3.36" fill="#000" stroke="none"/>
<circle cx="436.14" cy="513.11" r="3.36" fill="#000" stroke="none"/>
<line x1="456.25" y1="506.06" x2="456.25" y2="501.59" stroke-width="1.2"/>
<line x1="452.65" y1="501.59" x2="459.85" y2="501.59" stroke-width="1.2"/>
<circle cx="456.25" cy="506.06" r="3.36" fill="#000" stroke="none"/>
<circle cx="476.36" cy="482.75" r="3.36" fill="#000" stroke="none"/>
<circle cx="496.48" cy="464.00" r="3.36" fill="#000" stroke="none"/>
<circle cx="516.59" cy="459.53" r="3.36" fill="#000" stroke="none"/>
<path d="M436.14,503.47L439.83,509.96L432.44,509.96Z" fill="#000" stroke="none"/>
<line x1="456.25" y1="485.61" x2="456.25" y2="474.89" stroke-width="1.2"/>
<line x1="452.65" y1="474.89" x2="459.85" y2="474.89" stroke-width="1.2"/>
<path d="M456.25,482.04L459.95,488.53L452.55,488.53Z" fill="#000" stroke="none"/>
<path d="M476.36,462.21L480.06,468.71L472.67,468.71Z" fill="#000" stroke="none"/>
<path d="M496.48,455.96L500.17,462.46L492.78,462.46Z" fill="#000" stroke="none"/>
<path d="M516.59,455.96L520.28,462.46L512.89,462.46Z" fill="#000" stroke="none"/>
<line x1="375.80" y1="491.86" x2="375.80" y2="486.50" stroke-width="1.2"/>
<line x1="372.20" y1="486.50" x2="379.40" y2="486.50" stroke-width="1.2"/>
<path d="M375.80,495.43L379.50,488.94L372.10,488.94Z" fill="#000" stroke="none"/>
<line x1="395.91" y1="490.70" x2="395.91" y2="488.02" stroke-width="1.2"/>
<line x1="392.31" y1="488.02" x2="399.51" y2="488.02" stroke-width="1.2"/>
<path d="M395.91,494.27L399.61,487.78L392.22,487.78Z" fill="#000" stroke="none"/>
<path d="M416.03,490.70L419.72,484.20L412.33,484.20Z" fill="#000" stroke="none"/>
<path d="M436.14,484.54L439.83,478.04L432.44,478.04Z" fill="#000" stroke="none"/>
<line x1="456.25" y1="461.32" x2="456.25" y2="451.76" stroke-width="1.2"/>
<line x1="452.65" y1="451.76" x2="459.85" y2="451.76" stroke-width="1.2"/>
<path d="M456.25,464.89L459.95,458.40L452.55,458.40Z" fill="#000" stroke="none"/>
<line x1="476.36" y1="459.98" x2="476.36" y2="454.62" stroke-width="1.2"/>
<line x1="472.76" y1="454.62" x2="479.96" y2="454.62" stroke-width="1.2"/>
<path d="M476.36,463.55L480.06,457.06L472.67,457.06Z" fill="#000" stroke="none"/>
<line x1="496.48" y1="453.10" x2="496.48" y2="448.64" stroke-width="1.2"/>
<line x1="492.88" y1="448.64" x2="500.08" y2="448.64" stroke-width="1.2"/>
<path d="M496.48,456.68L500.17,450.18L492.78,450.18Z" fill="#000" stroke="none"/>
<path d="M516.59,462.21L520.28,455.72L512.89,455.72Z" fill="#000" stroke="none"/>
<circle cx="375.80" cy="479.81" r="3.25" fill="#fff" stroke="#000" stroke-width="1.46"/>
<circle cx="395.91" cy="475.61" r="3.25" fill="#fff" stroke="#000" stroke-width="1.46"/>
<circle cx="416.03" cy="476.77" r="3.25" fill="#fff" stroke="#000" stroke-width="1.46"/>
<circle cx="436.14" cy="473.20" r="3.25" fill="#fff" stroke="#000" stroke-width="1.46"/>
<circle cx="456.25" cy="472.13" r="3.25" fill="#fff" stroke="#000" stroke-width="1.46"/>
<circle cx="476.36" cy="468.20" r="3.25" fill="#fff" stroke="#000" stroke-width="1.46"/>
<circle cx="496.48" cy="469.54" r="3.25" fill="#fff" stroke="#000" stroke-width="1.46"/>
<line x1="516.59" y1="455.16" x2="516.59" y2="449.80" stroke-width="1.2"/>
<line x1="512.99" y1="449.80" x2="520.19" y2="449.80" stroke-width="1.2"/>
<circle cx="516.59" cy="455.16" r="3.25" fill="#fff" stroke="#000" stroke-width="1.46"/>
<circle cx="375.80" cy="509.54" r="3.70" fill="#000" stroke="none"/>
<circle cx="395.91" cy="511.33" r="3.70" fill="#000" stroke="none"/>
<circle cx="416.03" cy="510.44" r="3.70" fill="#000" stroke="none"/>
<circle cx="436.14" cy="476.95" r="3.70" fill="#000" stroke="none"/>
<circle cx="456.25" cy="436.14" r="3.70" fill="#000" stroke="none"/>
<circle cx="476.36" cy="429.98" r="3.70" fill="#000" stroke="none"/>
<line x1="496.48" y1="426.58" x2="496.48" y2="423.90" stroke-width="1.2"/>
<line x1="492.88" y1="423.90" x2="500.08" y2="423.90" stroke-width="1.2"/>
<circle cx="496.48" cy="426.58" r="3.70" fill="#000" stroke="none"/>
<circle cx="516.59" cy="425.24" r="3.70" fill="#000" stroke="none"/>
<rect x="371.72" y="707.24" width="7.17" height="7.17" fill="#000" stroke="none"/>
<rect x="391.72" y="707.84" width="7.17" height="7.17" fill="#000" stroke="none"/>
<rect x="411.72" y="707.41" width="7.17" height="7.17" fill="#000" stroke="none"/>
<rect x="451.72" y="707.41" width="7.17" height="7.17" fill="#000" stroke="none"/>
<rect x="471.72" y="691.69" width="7.17" height="7.17" fill="#000" stroke="none"/>
<rect x="491.72" y="663.86" width="7.17" height="7.17" fill="#000" stroke="none"/>
<rect x="511.72" y="661.11" width="7.17" height="7.17" fill="#000" stroke="none"/>
<path d="M375.30,706.13L379.00,712.63L371.60,712.63Z" fill="#000" stroke="none"/>
<path d="M395.30,701.24L399.00,707.73L391.60,707.73Z" fill="#000" stroke="none"/>
<path d="M415.30,704.93L419.00,711.43L411.60,711.43Z" fill="#000" stroke="none"/>
<line x1="455.30" y1="701.54" x2="455.30" y2="696.39" stroke-width="1.2"/>
<line x1="451.70" y1="696.39" x2="458.90" y2="696.39" stroke-width="1.2"/>
<path d="M455.30,697.97L459.00,704.47L451.60,704.47Z" fill="#000" stroke="none"/>
<line x1="475.30" y1="689.95" x2="475.30" y2="684.79" stroke-width="1.2"/>
<line x1="471.70" y1="684.79" x2="478.90" y2="684.79" stroke-width="1.2"/>
<path d="M475.30,686.38L479.00,692.87L471.60,692.87Z" fill="#000" stroke="none"/>
<path d="M495.30,658.89L499.00,665.38L491.60,665.38Z" fill="#000" stroke="none"/>
<path d="M515.30,656.31L519.00,662.81L511.60,662.81Z" fill="#000" stroke="none"/>
<circle cx="375.30" cy="707.13" r="3.36" fill="#000" stroke="none"/>
<circle cx="415.30" cy="708.85" r="3.36" fill="#000" stroke="none"/>
<circle cx="435.30" cy="713.14" r="3.36" fill="#000" stroke="none"/>
<circle cx="495.30" cy="660.74" r="3.36" fill="#000" stroke="none"/>
<path d="M375.30,705.98L379.00,699.48L371.60,699.48Z" fill="#000" stroke="none"/>
<path d="M395.30,708.98L399.00,702.49L391.60,702.49Z" fill="#000" stroke="none"/>
<path d="M435.30,692.58L439.00,686.08L431.60,686.08Z" fill="#000" stroke="none"/>
<path d="M455.30,666.89L459.00,660.40L451.60,660.40Z" fill="#000" stroke="none"/>
<path d="M475.30,658.04L479.00,651.55L471.60,651.55Z" fill="#000" stroke="none"/>
<path d="M495.30,664.31L499.00,657.82L491.60,657.82Z" fill="#000" stroke="none"/>
<path d="M375.30,698.80L379.33,702.83L375.30,706.87L371.27,702.83Z" fill="#000" stroke="none"/>
<path d="M395.30,696.22L399.33,700.26L395.30,704.29L391.27,700.26Z" fill="#000" stroke="none"/>
<path d="M435.30,675.35L439.33,679.38L435.30,683.41L431.27,679.38Z" fill="#000" stroke="none"/>
<path d="M455.30,660.15L459.33,664.18L455.30,668.21L451.27,664.18Z" fill="#000" stroke="none"/>
<path d="M495.30,656.71L499.33,660.74L495.30,664.77L491.27,660.74Z" fill="#000" stroke="none"/>
<line x1="375.30" y1="692.10" x2="375.30" y2="687.20" stroke-width="1.2"/>
<line x1="371.70" y1="687.20" x2="378.90" y2="687.20" stroke-width="1.2"/>
<circle cx="375.30" cy="692.10" r="3.25" fill="#fff" stroke="#000" stroke-width="1.46"/>
<line x1="395.30" y1="697.51" x2="395.30" y2="694.07" stroke-width="1.2"/>
<line x1="391.70" y1="694.07" x2="398.90" y2="694.07" stroke-width="1.2"/>
<circle cx="395.30" cy="697.51" r="3.25" fill="#fff" stroke="#000" stroke-width="1.46"/>
<circle cx="415.30" cy="695.10" r="3.25" fill="#fff" stroke="#000" stroke-width="1.46"/>
<circle cx="435.30" cy="672.08" r="3.25" fill="#fff" stroke="#000" stroke-width="1.46"/>
<line x1="455.30" y1="662.72" x2="455.30" y2="657.13" stroke-width="1.2"/>
<line x1="451.70" y1="657.13" x2="458.90" y2="657.13" stroke-width="1.2"/>
<circle cx="455.30" cy="662.72" r="3.25" fill="#fff" stroke="#000" stroke-width="1.46"/>
<circle cx="475.30" cy="664.69" r="3.25" fill="#fff" stroke="#000" stroke-width="1.46"/>
<line x1="495.30" y1="661.34" x2="495.30" y2="656.19" stroke-width="1.2"/>
<line x1="491.70" y1="656.19" x2="498.90" y2="656.19" stroke-width="1.2"/>
<circle cx="495.30" cy="661.34" r="3.25" fill="#fff" stroke="#000" stroke-width="1.46"/>
<circle cx="515.30" cy="655.16" r="3.25" fill="#fff" stroke="#000" stroke-width="1.46"/>
<circle cx="375.30" cy="711.42" r="3.70" fill="#000" stroke="none"/>
<circle cx="395.30" cy="711.42" r="3.70" fill="#000" stroke="none"/>
<circle cx="415.30" cy="710.99" r="3.70" fill="#000" stroke="none"/>
<circle cx="435.30" cy="679.38" r="3.70" fill="#000" stroke="none"/>
<circle cx="455.30" cy="636.78" r="3.70" fill="#000" stroke="none"/>
<circle cx="475.30" cy="627.93" r="3.70" fill="#000" stroke="none"/>
<circle cx="495.30" cy="629.30" r="3.70" fill="#000" stroke="none"/>
<circle cx="515.30" cy="628.62" r="3.70" fill="#000" stroke="none"/>
<path d="M475.30,666.62L479.00,673.11L471.60,673.11Z" fill="#000" stroke="none"/>
<line x1="243.7" y1="42.50" x2="259.5" y2="42.50" stroke-width="1.7"/>
<circle cx="251.60" cy="42.50" r="3.56" fill="#000" stroke="none"/>
<line x1="243.7" y1="67.10" x2="259.5" y2="67.10" stroke-width="1.7"/>
<rect x="248.14" y="63.64" width="6.91" height="6.91" fill="#000" stroke="none"/>
<line x1="243.7" y1="91.30" x2="259.5" y2="91.30" stroke-width="1.7"/>
<circle cx="251.6" cy="91.30" r="2.9" fill="#8a8a8a" stroke="#000" stroke-width="1.5"/>
<line x1="243.7" y1="113.80" x2="259.5" y2="113.80" stroke-width="1.7"/>
<path d="M251.60,110.35L255.16,116.62L248.04,116.62Z" fill="#000" stroke="none"/>
<line x1="243.7" y1="137.60" x2="259.5" y2="137.60" stroke-width="1.7"/>
<path d="M251.60,141.05L255.16,134.78L248.04,134.78Z" fill="#000" stroke="none"/>
<line x1="243.7" y1="160.30" x2="259.5" y2="160.30" stroke-width="1.7"/>
<path d="M251.60,156.41L255.49,160.30L251.60,164.19L247.71,160.30Z" fill="#000" stroke="none"/>
<line x1="243.7" y1="184.80" x2="259.5" y2="184.80" stroke-width="1.7"/>
<circle cx="251.60" cy="184.80" r="3.24" fill="#000" stroke="none"/>
<line x1="243.7" y1="208.10" x2="259.5" y2="208.10" stroke-width="1.7"/>
<path d="M251.60,203.51L256.19,208.10L251.60,212.69L247.01,208.10Z" fill="#fff" stroke="#000" stroke-width="1.1"/>
<line x1="243.7" y1="232.20" x2="259.5" y2="232.20" stroke-width="1.7"/>
<circle cx="251.60" cy="232.20" r="3.92" fill="none" stroke="#000" stroke-width="1.49"/>
<line x1="546.6" y1="34.60" x2="560.8" y2="34.60" stroke-width="1.8"/>
<circle cx="553.80" cy="34.60" r="3.30" fill="#000" stroke="none"/>
<line x1="546.6" y1="55.00" x2="560.8" y2="55.00" stroke-width="1.8"/>
<rect x="550.60" y="51.80" width="6.40" height="6.40" fill="#000" stroke="none"/>
<line x1="546.6" y1="75.40" x2="560.8" y2="75.40" stroke-width="1.8"/>
<circle cx="553.80" cy="75.40" r="2.70" fill="#000" stroke="none"/>
<line x1="546.6" y1="94.70" x2="560.8" y2="94.70" stroke-width="1.8"/>
<path d="M553.80,91.51L557.10,97.31L550.50,97.31Z" fill="#000" stroke="none"/>
<line x1="546.6" y1="115.00" x2="560.8" y2="115.00" stroke-width="1.8"/>
<path d="M553.80,118.19L557.10,112.39L550.50,112.39Z" fill="#000" stroke="none"/>
<line x1="546.6" y1="134.60" x2="560.8" y2="134.60" stroke-width="1.8"/>
<path d="M553.80,131.54L556.86,134.60L553.80,137.66L550.74,134.60Z" fill="#000" stroke="none"/>
<line x1="546.6" y1="153.40" x2="560.8" y2="153.40" stroke-width="1.8"/>
<circle cx="553.80" cy="153.40" r="3.54" fill="none" stroke="#000" stroke-width="1.34"/>
</g>
</svg>
</body></html>
